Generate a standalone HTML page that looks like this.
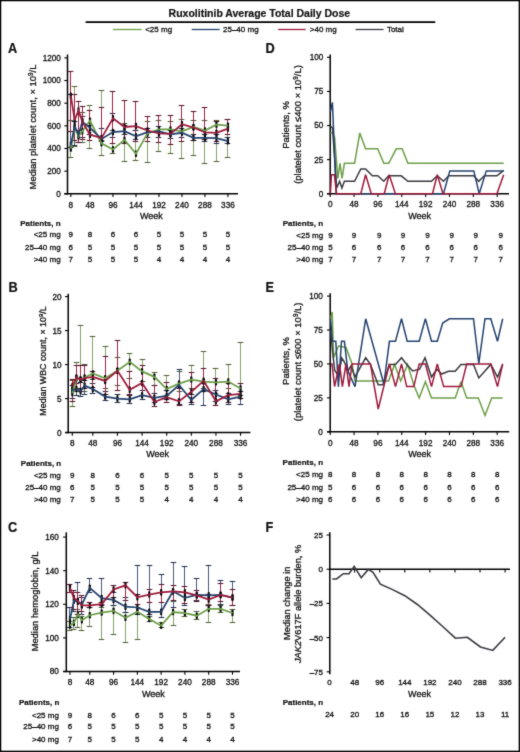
<!DOCTYPE html>
<html><head><meta charset="utf-8"><title>Ruxolitinib Average Total Daily Dose</title>
<style>
html,body{margin:0;padding:0;background:#fff;}
body{width:520px;height:752px;overflow:hidden;}
svg{display:block;font-family:"Liberation Sans",sans-serif;}
text{stroke:#111;stroke-width:0.3px;}
text[font-weight=bold]{stroke-width:0.2px;}
</style></head><body>
<svg width="520" height="752" viewBox="0 0 520 752" fill="#111" stroke-linecap="butt">
<defs><filter id="soft" filterUnits="userSpaceOnUse" x="0" y="0" width="520" height="752" color-interpolation-filters="sRGB"><feConvolveMatrix order="3" kernelMatrix="0.02 0.08 0.02 0.08 0.6 0.08 0.02 0.08 0.02" divisor="1" preserveAlpha="false" edgeMode="duplicate"/></filter></defs>
<g filter="url(#soft)">
<rect x="0" y="0" width="520" height="752" fill="#fff"/>
<rect x="0.6" y="0.6" width="518.7" height="750.7" fill="none" stroke="#000" stroke-width="1.3"/>
<text x="259.40" y="16.60" font-size="10.5" text-anchor="middle" font-weight="bold" >Ruxolitinib Average Total Daily Dose</text>
<line x1="85.60" y1="22.20" x2="435.30" y2="22.20" stroke="#000" stroke-width="1.7" />
<line x1="112.90" y1="29.50" x2="141.70" y2="29.50" stroke="#6c9f48" stroke-width="1.3" />
<text x="145.20" y="32.30" font-size="8" text-anchor="start" font-weight="normal" >&lt;25 mg</text>
<line x1="191.70" y1="29.50" x2="219.60" y2="29.50" stroke="#24426e" stroke-width="1.3" />
<text x="223.00" y="32.30" font-size="8" text-anchor="start" font-weight="normal" >25–40 mg</text>
<line x1="278.10" y1="29.50" x2="305.60" y2="29.50" stroke="#9e1a3c" stroke-width="1.3" />
<text x="309.80" y="32.30" font-size="8" text-anchor="start" font-weight="normal" >&gt;40 mg</text>
<line x1="355.60" y1="29.50" x2="383.50" y2="29.50" stroke="#3a3a42" stroke-width="1.3" />
<text x="386.90" y="32.30" font-size="8" text-anchor="start" font-weight="normal" >Total</text>
<text transform="translate(8.10,53.30) scale(0.9,1)" font-size="14.2" font-weight="bold">A</text>
<line x1="67.50" y1="54.50" x2="67.50" y2="194.50" stroke="#000" stroke-width="1.5" />
<line x1="64.30" y1="193.80" x2="67.50" y2="193.80" stroke="#000" stroke-width="1.1" />
<text x="60.90" y="196.70" font-size="8.2" text-anchor="end" font-weight="normal" >0</text>
<line x1="64.30" y1="171.15" x2="67.50" y2="171.15" stroke="#000" stroke-width="1.1" />
<text x="60.90" y="174.05" font-size="8.2" text-anchor="end" font-weight="normal" >200</text>
<line x1="64.30" y1="148.50" x2="67.50" y2="148.50" stroke="#000" stroke-width="1.1" />
<text x="60.90" y="151.40" font-size="8.2" text-anchor="end" font-weight="normal" >400</text>
<line x1="64.30" y1="125.85" x2="67.50" y2="125.85" stroke="#000" stroke-width="1.1" />
<text x="60.90" y="128.75" font-size="8.2" text-anchor="end" font-weight="normal" >600</text>
<line x1="64.30" y1="103.20" x2="67.50" y2="103.20" stroke="#000" stroke-width="1.1" />
<text x="60.90" y="106.10" font-size="8.2" text-anchor="end" font-weight="normal" >800</text>
<line x1="64.30" y1="80.55" x2="67.50" y2="80.55" stroke="#000" stroke-width="1.1" />
<text x="60.90" y="83.45" font-size="8.2" text-anchor="end" font-weight="normal" >1000</text>
<line x1="64.30" y1="57.90" x2="67.50" y2="57.90" stroke="#000" stroke-width="1.1" />
<text x="60.90" y="60.80" font-size="8.2" text-anchor="end" font-weight="normal" >1200</text>
<line x1="64.30" y1="193.80" x2="238.00" y2="193.80" stroke="#000" stroke-width="1.5" />
<line x1="70.83" y1="193.80" x2="70.83" y2="197.00" stroke="#000" stroke-width="1.1" />
<text x="70.83" y="207.60" font-size="8.2" text-anchor="middle" font-weight="normal" >8</text>
<line x1="89.99" y1="193.80" x2="89.99" y2="197.00" stroke="#000" stroke-width="1.1" />
<text x="89.99" y="207.60" font-size="8.2" text-anchor="middle" font-weight="normal" >48</text>
<line x1="112.98" y1="193.80" x2="112.98" y2="197.00" stroke="#000" stroke-width="1.1" />
<text x="112.98" y="207.60" font-size="8.2" text-anchor="middle" font-weight="normal" >96</text>
<line x1="135.98" y1="193.80" x2="135.98" y2="197.00" stroke="#000" stroke-width="1.1" />
<text x="135.98" y="207.60" font-size="8.2" text-anchor="middle" font-weight="normal" >144</text>
<line x1="158.97" y1="193.80" x2="158.97" y2="197.00" stroke="#000" stroke-width="1.1" />
<text x="158.97" y="207.60" font-size="8.2" text-anchor="middle" font-weight="normal" >192</text>
<line x1="181.96" y1="193.80" x2="181.96" y2="197.00" stroke="#000" stroke-width="1.1" />
<text x="181.96" y="207.60" font-size="8.2" text-anchor="middle" font-weight="normal" >240</text>
<line x1="204.95" y1="193.80" x2="204.95" y2="197.00" stroke="#000" stroke-width="1.1" />
<text x="204.95" y="207.60" font-size="8.2" text-anchor="middle" font-weight="normal" >288</text>
<line x1="227.94" y1="193.80" x2="227.94" y2="197.00" stroke="#000" stroke-width="1.1" />
<text x="227.94" y="207.60" font-size="8.2" text-anchor="middle" font-weight="normal" >336</text>
<text x="151.30" y="219.00" font-size="9" text-anchor="middle" font-weight="normal" >Week</text>
<text transform="translate(35.90,127.00) rotate(-90)" font-size="9.45" text-anchor="middle">Median platelet count, × 10<tspan dy="-3" font-size="6.3">9</tspan><tspan dy="3">/L</tspan></text>
<line x1="70.50" y1="120.50" x2="70.50" y2="157.50" stroke="#84a468" stroke-width="1.0" />
<line x1="67.70" y1="120.50" x2="73.30" y2="120.50" stroke="#55663f" stroke-width="1.1" />
<line x1="67.70" y1="157.50" x2="73.30" y2="157.50" stroke="#55663f" stroke-width="1.1" />
<line x1="74.50" y1="86.50" x2="74.50" y2="146.50" stroke="#84a468" stroke-width="1.0" />
<line x1="71.70" y1="86.50" x2="77.30" y2="86.50" stroke="#55663f" stroke-width="1.1" />
<line x1="71.70" y1="146.50" x2="77.30" y2="146.50" stroke="#55663f" stroke-width="1.1" />
<line x1="78.50" y1="114.50" x2="78.50" y2="142.50" stroke="#84a468" stroke-width="1.0" />
<line x1="75.70" y1="114.50" x2="81.30" y2="114.50" stroke="#55663f" stroke-width="1.1" />
<line x1="75.70" y1="142.50" x2="81.30" y2="142.50" stroke="#55663f" stroke-width="1.1" />
<line x1="82.50" y1="112.50" x2="82.50" y2="142.50" stroke="#84a468" stroke-width="1.0" />
<line x1="79.70" y1="112.50" x2="85.30" y2="112.50" stroke="#55663f" stroke-width="1.1" />
<line x1="79.70" y1="142.50" x2="85.30" y2="142.50" stroke="#55663f" stroke-width="1.1" />
<line x1="89.50" y1="105.50" x2="89.50" y2="148.50" stroke="#84a468" stroke-width="1.0" />
<line x1="86.70" y1="105.50" x2="92.30" y2="105.50" stroke="#55663f" stroke-width="1.1" />
<line x1="86.70" y1="148.50" x2="92.30" y2="148.50" stroke="#55663f" stroke-width="1.1" />
<line x1="101.50" y1="90.50" x2="101.50" y2="155.50" stroke="#84a468" stroke-width="1.0" />
<line x1="98.70" y1="90.50" x2="104.30" y2="90.50" stroke="#55663f" stroke-width="1.1" />
<line x1="98.70" y1="155.50" x2="104.30" y2="155.50" stroke="#55663f" stroke-width="1.1" />
<line x1="112.50" y1="130.50" x2="112.50" y2="153.50" stroke="#84a468" stroke-width="1.0" />
<line x1="109.70" y1="130.50" x2="115.30" y2="130.50" stroke="#55663f" stroke-width="1.1" />
<line x1="109.70" y1="153.50" x2="115.30" y2="153.50" stroke="#55663f" stroke-width="1.1" />
<line x1="124.50" y1="123.50" x2="124.50" y2="161.50" stroke="#84a468" stroke-width="1.0" />
<line x1="121.70" y1="123.50" x2="127.30" y2="123.50" stroke="#55663f" stroke-width="1.1" />
<line x1="121.70" y1="161.50" x2="127.30" y2="161.50" stroke="#55663f" stroke-width="1.1" />
<line x1="135.50" y1="130.50" x2="135.50" y2="160.50" stroke="#84a468" stroke-width="1.0" />
<line x1="132.70" y1="130.50" x2="138.30" y2="130.50" stroke="#55663f" stroke-width="1.1" />
<line x1="132.70" y1="160.50" x2="138.30" y2="160.50" stroke="#55663f" stroke-width="1.1" />
<line x1="147.50" y1="121.50" x2="147.50" y2="162.50" stroke="#84a468" stroke-width="1.0" />
<line x1="144.70" y1="121.50" x2="150.30" y2="121.50" stroke="#55663f" stroke-width="1.1" />
<line x1="144.70" y1="162.50" x2="150.30" y2="162.50" stroke="#55663f" stroke-width="1.1" />
<line x1="158.50" y1="120.50" x2="158.50" y2="151.50" stroke="#84a468" stroke-width="1.0" />
<line x1="155.70" y1="120.50" x2="161.30" y2="120.50" stroke="#55663f" stroke-width="1.1" />
<line x1="155.70" y1="151.50" x2="161.30" y2="151.50" stroke="#55663f" stroke-width="1.1" />
<line x1="170.50" y1="121.50" x2="170.50" y2="153.50" stroke="#84a468" stroke-width="1.0" />
<line x1="167.70" y1="121.50" x2="173.30" y2="121.50" stroke="#55663f" stroke-width="1.1" />
<line x1="167.70" y1="153.50" x2="173.30" y2="153.50" stroke="#55663f" stroke-width="1.1" />
<line x1="181.50" y1="119.50" x2="181.50" y2="158.50" stroke="#84a468" stroke-width="1.0" />
<line x1="178.70" y1="119.50" x2="184.30" y2="119.50" stroke="#55663f" stroke-width="1.1" />
<line x1="178.70" y1="158.50" x2="184.30" y2="158.50" stroke="#55663f" stroke-width="1.1" />
<line x1="193.50" y1="120.50" x2="193.50" y2="155.50" stroke="#84a468" stroke-width="1.0" />
<line x1="190.70" y1="120.50" x2="196.30" y2="120.50" stroke="#55663f" stroke-width="1.1" />
<line x1="190.70" y1="155.50" x2="196.30" y2="155.50" stroke="#55663f" stroke-width="1.1" />
<line x1="204.50" y1="120.50" x2="204.50" y2="163.50" stroke="#84a468" stroke-width="1.0" />
<line x1="201.70" y1="120.50" x2="207.30" y2="120.50" stroke="#55663f" stroke-width="1.1" />
<line x1="201.70" y1="163.50" x2="207.30" y2="163.50" stroke="#55663f" stroke-width="1.1" />
<line x1="216.50" y1="120.50" x2="216.50" y2="161.50" stroke="#84a468" stroke-width="1.0" />
<line x1="213.70" y1="120.50" x2="219.30" y2="120.50" stroke="#55663f" stroke-width="1.1" />
<line x1="213.70" y1="161.50" x2="219.30" y2="161.50" stroke="#55663f" stroke-width="1.1" />
<line x1="227.50" y1="119.50" x2="227.50" y2="157.50" stroke="#84a468" stroke-width="1.0" />
<line x1="224.70" y1="119.50" x2="230.30" y2="119.50" stroke="#55663f" stroke-width="1.1" />
<line x1="224.70" y1="157.50" x2="230.30" y2="157.50" stroke="#55663f" stroke-width="1.1" />
<line x1="70.50" y1="94.50" x2="70.50" y2="147.50" stroke="#4a5a80" stroke-width="1.0" />
<line x1="67.70" y1="94.50" x2="73.30" y2="94.50" stroke="#2a3552" stroke-width="1.1" />
<line x1="67.70" y1="147.50" x2="73.30" y2="147.50" stroke="#2a3552" stroke-width="1.1" />
<line x1="74.50" y1="121.50" x2="74.50" y2="145.50" stroke="#4a5a80" stroke-width="1.0" />
<line x1="71.70" y1="121.50" x2="77.30" y2="121.50" stroke="#2a3552" stroke-width="1.1" />
<line x1="71.70" y1="145.50" x2="77.30" y2="145.50" stroke="#2a3552" stroke-width="1.1" />
<line x1="78.50" y1="130.50" x2="78.50" y2="142.50" stroke="#4a5a80" stroke-width="1.0" />
<line x1="75.70" y1="130.50" x2="81.30" y2="130.50" stroke="#2a3552" stroke-width="1.1" />
<line x1="75.70" y1="142.50" x2="81.30" y2="142.50" stroke="#2a3552" stroke-width="1.1" />
<line x1="82.50" y1="116.50" x2="82.50" y2="137.50" stroke="#4a5a80" stroke-width="1.0" />
<line x1="79.70" y1="116.50" x2="85.30" y2="116.50" stroke="#2a3552" stroke-width="1.1" />
<line x1="79.70" y1="137.50" x2="85.30" y2="137.50" stroke="#2a3552" stroke-width="1.1" />
<line x1="89.50" y1="125.50" x2="89.50" y2="134.50" stroke="#4a5a80" stroke-width="1.0" />
<line x1="86.70" y1="125.50" x2="92.30" y2="125.50" stroke="#2a3552" stroke-width="1.1" />
<line x1="86.70" y1="134.50" x2="92.30" y2="134.50" stroke="#2a3552" stroke-width="1.1" />
<line x1="101.50" y1="128.50" x2="101.50" y2="141.50" stroke="#4a5a80" stroke-width="1.0" />
<line x1="98.70" y1="128.50" x2="104.30" y2="128.50" stroke="#2a3552" stroke-width="1.1" />
<line x1="98.70" y1="141.50" x2="104.30" y2="141.50" stroke="#2a3552" stroke-width="1.1" />
<line x1="112.50" y1="113.50" x2="112.50" y2="137.50" stroke="#4a5a80" stroke-width="1.0" />
<line x1="109.70" y1="113.50" x2="115.30" y2="113.50" stroke="#2a3552" stroke-width="1.1" />
<line x1="109.70" y1="137.50" x2="115.30" y2="137.50" stroke="#2a3552" stroke-width="1.1" />
<line x1="124.50" y1="125.50" x2="124.50" y2="134.50" stroke="#4a5a80" stroke-width="1.0" />
<line x1="121.70" y1="125.50" x2="127.30" y2="125.50" stroke="#2a3552" stroke-width="1.1" />
<line x1="121.70" y1="134.50" x2="127.30" y2="134.50" stroke="#2a3552" stroke-width="1.1" />
<line x1="135.50" y1="130.50" x2="135.50" y2="139.50" stroke="#4a5a80" stroke-width="1.0" />
<line x1="132.70" y1="130.50" x2="138.30" y2="130.50" stroke="#2a3552" stroke-width="1.1" />
<line x1="132.70" y1="139.50" x2="138.30" y2="139.50" stroke="#2a3552" stroke-width="1.1" />
<line x1="147.50" y1="128.50" x2="147.50" y2="137.50" stroke="#4a5a80" stroke-width="1.0" />
<line x1="144.70" y1="128.50" x2="150.30" y2="128.50" stroke="#2a3552" stroke-width="1.1" />
<line x1="144.70" y1="137.50" x2="150.30" y2="137.50" stroke="#2a3552" stroke-width="1.1" />
<line x1="158.50" y1="126.50" x2="158.50" y2="137.50" stroke="#4a5a80" stroke-width="1.0" />
<line x1="155.70" y1="126.50" x2="161.30" y2="126.50" stroke="#2a3552" stroke-width="1.1" />
<line x1="155.70" y1="137.50" x2="161.30" y2="137.50" stroke="#2a3552" stroke-width="1.1" />
<line x1="170.50" y1="130.50" x2="170.50" y2="138.50" stroke="#4a5a80" stroke-width="1.0" />
<line x1="167.70" y1="130.50" x2="173.30" y2="130.50" stroke="#2a3552" stroke-width="1.1" />
<line x1="167.70" y1="138.50" x2="173.30" y2="138.50" stroke="#2a3552" stroke-width="1.1" />
<line x1="181.50" y1="128.50" x2="181.50" y2="137.50" stroke="#4a5a80" stroke-width="1.0" />
<line x1="178.70" y1="128.50" x2="184.30" y2="128.50" stroke="#2a3552" stroke-width="1.1" />
<line x1="178.70" y1="137.50" x2="184.30" y2="137.50" stroke="#2a3552" stroke-width="1.1" />
<line x1="193.50" y1="134.50" x2="193.50" y2="140.50" stroke="#4a5a80" stroke-width="1.0" />
<line x1="190.70" y1="134.50" x2="196.30" y2="134.50" stroke="#2a3552" stroke-width="1.1" />
<line x1="190.70" y1="140.50" x2="196.30" y2="140.50" stroke="#2a3552" stroke-width="1.1" />
<line x1="204.50" y1="134.50" x2="204.50" y2="141.50" stroke="#4a5a80" stroke-width="1.0" />
<line x1="201.70" y1="134.50" x2="207.30" y2="134.50" stroke="#2a3552" stroke-width="1.1" />
<line x1="201.70" y1="141.50" x2="207.30" y2="141.50" stroke="#2a3552" stroke-width="1.1" />
<line x1="216.50" y1="134.50" x2="216.50" y2="143.50" stroke="#4a5a80" stroke-width="1.0" />
<line x1="213.70" y1="134.50" x2="219.30" y2="134.50" stroke="#2a3552" stroke-width="1.1" />
<line x1="213.70" y1="143.50" x2="219.30" y2="143.50" stroke="#2a3552" stroke-width="1.1" />
<line x1="227.50" y1="137.50" x2="227.50" y2="143.50" stroke="#4a5a80" stroke-width="1.0" />
<line x1="224.70" y1="137.50" x2="230.30" y2="137.50" stroke="#2a3552" stroke-width="1.1" />
<line x1="224.70" y1="143.50" x2="230.30" y2="143.50" stroke="#2a3552" stroke-width="1.1" />
<line x1="70.50" y1="71.50" x2="70.50" y2="131.50" stroke="#9e2446" stroke-width="1.0" />
<line x1="67.70" y1="71.50" x2="73.30" y2="71.50" stroke="#5e1c32" stroke-width="1.1" />
<line x1="67.70" y1="131.50" x2="73.30" y2="131.50" stroke="#5e1c32" stroke-width="1.1" />
<line x1="74.50" y1="94.50" x2="74.50" y2="140.50" stroke="#9e2446" stroke-width="1.0" />
<line x1="71.70" y1="94.50" x2="77.30" y2="94.50" stroke="#5e1c32" stroke-width="1.1" />
<line x1="71.70" y1="140.50" x2="77.30" y2="140.50" stroke="#5e1c32" stroke-width="1.1" />
<line x1="78.50" y1="101.50" x2="78.50" y2="142.50" stroke="#9e2446" stroke-width="1.0" />
<line x1="75.70" y1="101.50" x2="81.30" y2="101.50" stroke="#5e1c32" stroke-width="1.1" />
<line x1="75.70" y1="142.50" x2="81.30" y2="142.50" stroke="#5e1c32" stroke-width="1.1" />
<line x1="82.50" y1="106.50" x2="82.50" y2="139.50" stroke="#9e2446" stroke-width="1.0" />
<line x1="79.70" y1="106.50" x2="85.30" y2="106.50" stroke="#5e1c32" stroke-width="1.1" />
<line x1="79.70" y1="139.50" x2="85.30" y2="139.50" stroke="#5e1c32" stroke-width="1.1" />
<line x1="89.50" y1="110.50" x2="89.50" y2="140.50" stroke="#9e2446" stroke-width="1.0" />
<line x1="86.70" y1="110.50" x2="92.30" y2="110.50" stroke="#5e1c32" stroke-width="1.1" />
<line x1="86.70" y1="140.50" x2="92.30" y2="140.50" stroke="#5e1c32" stroke-width="1.1" />
<line x1="101.50" y1="107.50" x2="101.50" y2="140.50" stroke="#9e2446" stroke-width="1.0" />
<line x1="98.70" y1="107.50" x2="104.30" y2="107.50" stroke="#5e1c32" stroke-width="1.1" />
<line x1="98.70" y1="140.50" x2="104.30" y2="140.50" stroke="#5e1c32" stroke-width="1.1" />
<line x1="112.50" y1="91.50" x2="112.50" y2="143.50" stroke="#9e2446" stroke-width="1.0" />
<line x1="109.70" y1="91.50" x2="115.30" y2="91.50" stroke="#5e1c32" stroke-width="1.1" />
<line x1="109.70" y1="143.50" x2="115.30" y2="143.50" stroke="#5e1c32" stroke-width="1.1" />
<line x1="124.50" y1="100.50" x2="124.50" y2="143.50" stroke="#9e2446" stroke-width="1.0" />
<line x1="121.70" y1="100.50" x2="127.30" y2="100.50" stroke="#5e1c32" stroke-width="1.1" />
<line x1="121.70" y1="143.50" x2="127.30" y2="143.50" stroke="#5e1c32" stroke-width="1.1" />
<line x1="135.50" y1="101.50" x2="135.50" y2="141.50" stroke="#9e2446" stroke-width="1.0" />
<line x1="132.70" y1="101.50" x2="138.30" y2="101.50" stroke="#5e1c32" stroke-width="1.1" />
<line x1="132.70" y1="141.50" x2="138.30" y2="141.50" stroke="#5e1c32" stroke-width="1.1" />
<line x1="147.50" y1="116.50" x2="147.50" y2="141.50" stroke="#9e2446" stroke-width="1.0" />
<line x1="144.70" y1="116.50" x2="150.30" y2="116.50" stroke="#5e1c32" stroke-width="1.1" />
<line x1="144.70" y1="141.50" x2="150.30" y2="141.50" stroke="#5e1c32" stroke-width="1.1" />
<line x1="158.50" y1="115.50" x2="158.50" y2="142.50" stroke="#9e2446" stroke-width="1.0" />
<line x1="155.70" y1="115.50" x2="161.30" y2="115.50" stroke="#5e1c32" stroke-width="1.1" />
<line x1="155.70" y1="142.50" x2="161.30" y2="142.50" stroke="#5e1c32" stroke-width="1.1" />
<line x1="170.50" y1="115.50" x2="170.50" y2="144.50" stroke="#9e2446" stroke-width="1.0" />
<line x1="167.70" y1="115.50" x2="173.30" y2="115.50" stroke="#5e1c32" stroke-width="1.1" />
<line x1="167.70" y1="144.50" x2="173.30" y2="144.50" stroke="#5e1c32" stroke-width="1.1" />
<line x1="181.50" y1="105.50" x2="181.50" y2="141.50" stroke="#9e2446" stroke-width="1.0" />
<line x1="178.70" y1="105.50" x2="184.30" y2="105.50" stroke="#5e1c32" stroke-width="1.1" />
<line x1="178.70" y1="141.50" x2="184.30" y2="141.50" stroke="#5e1c32" stroke-width="1.1" />
<line x1="193.50" y1="111.50" x2="193.50" y2="140.50" stroke="#9e2446" stroke-width="1.0" />
<line x1="190.70" y1="111.50" x2="196.30" y2="111.50" stroke="#5e1c32" stroke-width="1.1" />
<line x1="190.70" y1="140.50" x2="196.30" y2="140.50" stroke="#5e1c32" stroke-width="1.1" />
<line x1="204.50" y1="107.50" x2="204.50" y2="139.50" stroke="#9e2446" stroke-width="1.0" />
<line x1="201.70" y1="107.50" x2="207.30" y2="107.50" stroke="#5e1c32" stroke-width="1.1" />
<line x1="201.70" y1="139.50" x2="207.30" y2="139.50" stroke="#5e1c32" stroke-width="1.1" />
<line x1="216.50" y1="121.50" x2="216.50" y2="141.50" stroke="#9e2446" stroke-width="1.0" />
<line x1="213.70" y1="121.50" x2="219.30" y2="121.50" stroke="#5e1c32" stroke-width="1.1" />
<line x1="213.70" y1="141.50" x2="219.30" y2="141.50" stroke="#5e1c32" stroke-width="1.1" />
<line x1="227.50" y1="119.50" x2="227.50" y2="134.50" stroke="#9e2446" stroke-width="1.0" />
<line x1="224.70" y1="119.50" x2="230.30" y2="119.50" stroke="#5e1c32" stroke-width="1.1" />
<line x1="224.70" y1="134.50" x2="230.30" y2="134.50" stroke="#5e1c32" stroke-width="1.1" />
<rect x="69.73" y="145.20" width="2.2" height="6.6" rx="0.8" fill="#0a0a0a"/>
<rect x="73.56" y="124.59" width="2.2" height="6.6" rx="0.8" fill="#0a0a0a"/>
<rect x="77.40" y="133.08" width="2.2" height="6.6" rx="0.8" fill="#0a0a0a"/>
<rect x="81.23" y="127.87" width="2.2" height="6.6" rx="0.8" fill="#0a0a0a"/>
<rect x="88.89" y="117.45" width="2.2" height="6.6" rx="0.8" fill="#0a0a0a"/>
<rect x="100.39" y="139.99" width="2.2" height="6.6" rx="0.8" fill="#0a0a0a"/>
<rect x="111.88" y="146.11" width="2.2" height="6.6" rx="0.8" fill="#0a0a0a"/>
<rect x="123.38" y="136.59" width="2.2" height="6.6" rx="0.8" fill="#0a0a0a"/>
<rect x="134.88" y="150.41" width="2.2" height="6.6" rx="0.8" fill="#0a0a0a"/>
<rect x="146.37" y="130.14" width="2.2" height="6.6" rx="0.8" fill="#0a0a0a"/>
<rect x="157.87" y="126.17" width="2.2" height="6.6" rx="0.8" fill="#0a0a0a"/>
<rect x="169.36" y="126.17" width="2.2" height="6.6" rx="0.8" fill="#0a0a0a"/>
<rect x="180.86" y="128.10" width="2.2" height="6.6" rx="0.8" fill="#0a0a0a"/>
<rect x="192.36" y="123.68" width="2.2" height="6.6" rx="0.8" fill="#0a0a0a"/>
<rect x="203.85" y="127.19" width="2.2" height="6.6" rx="0.8" fill="#0a0a0a"/>
<rect x="215.35" y="121.42" width="2.2" height="6.6" rx="0.8" fill="#0a0a0a"/>
<rect x="226.84" y="122.44" width="2.2" height="6.6" rx="0.8" fill="#0a0a0a"/>
<rect x="69.73" y="141.80" width="2.2" height="6.6" rx="0.8" fill="#0a0a0a"/>
<rect x="73.56" y="122.78" width="2.2" height="6.6" rx="0.8" fill="#0a0a0a"/>
<rect x="77.40" y="131.38" width="2.2" height="6.6" rx="0.8" fill="#0a0a0a"/>
<rect x="81.23" y="118.36" width="2.2" height="6.6" rx="0.8" fill="#0a0a0a"/>
<rect x="88.89" y="124.59" width="2.2" height="6.6" rx="0.8" fill="#0a0a0a"/>
<rect x="100.39" y="135.69" width="2.2" height="6.6" rx="0.8" fill="#0a0a0a"/>
<rect x="111.88" y="128.78" width="2.2" height="6.6" rx="0.8" fill="#0a0a0a"/>
<rect x="123.38" y="127.87" width="2.2" height="6.6" rx="0.8" fill="#0a0a0a"/>
<rect x="134.88" y="133.08" width="2.2" height="6.6" rx="0.8" fill="#0a0a0a"/>
<rect x="146.37" y="128.78" width="2.2" height="6.6" rx="0.8" fill="#0a0a0a"/>
<rect x="157.87" y="128.10" width="2.2" height="6.6" rx="0.8" fill="#0a0a0a"/>
<rect x="169.36" y="131.04" width="2.2" height="6.6" rx="0.8" fill="#0a0a0a"/>
<rect x="180.86" y="129.46" width="2.2" height="6.6" rx="0.8" fill="#0a0a0a"/>
<rect x="192.36" y="134.55" width="2.2" height="6.6" rx="0.8" fill="#0a0a0a"/>
<rect x="203.85" y="134.55" width="2.2" height="6.6" rx="0.8" fill="#0a0a0a"/>
<rect x="215.35" y="134.89" width="2.2" height="6.6" rx="0.8" fill="#0a0a0a"/>
<rect x="226.84" y="137.84" width="2.2" height="6.6" rx="0.8" fill="#0a0a0a"/>
<rect x="69.73" y="92.54" width="2.2" height="6.6" rx="0.8" fill="#0a0a0a"/>
<rect x="73.56" y="116.66" width="2.2" height="6.6" rx="0.8" fill="#0a0a0a"/>
<rect x="77.40" y="107.26" width="2.2" height="6.6" rx="0.8" fill="#0a0a0a"/>
<rect x="81.23" y="118.36" width="2.2" height="6.6" rx="0.8" fill="#0a0a0a"/>
<rect x="88.89" y="131.38" width="2.2" height="6.6" rx="0.8" fill="#0a0a0a"/>
<rect x="100.39" y="134.78" width="2.2" height="6.6" rx="0.8" fill="#0a0a0a"/>
<rect x="111.88" y="114.96" width="2.2" height="6.6" rx="0.8" fill="#0a0a0a"/>
<rect x="123.38" y="123.68" width="2.2" height="6.6" rx="0.8" fill="#0a0a0a"/>
<rect x="134.88" y="122.78" width="2.2" height="6.6" rx="0.8" fill="#0a0a0a"/>
<rect x="146.37" y="127.19" width="2.2" height="6.6" rx="0.8" fill="#0a0a0a"/>
<rect x="157.87" y="130.14" width="2.2" height="6.6" rx="0.8" fill="#0a0a0a"/>
<rect x="169.36" y="130.59" width="2.2" height="6.6" rx="0.8" fill="#0a0a0a"/>
<rect x="180.86" y="120.96" width="2.2" height="6.6" rx="0.8" fill="#0a0a0a"/>
<rect x="192.36" y="124.25" width="2.2" height="6.6" rx="0.8" fill="#0a0a0a"/>
<rect x="203.85" y="129.12" width="2.2" height="6.6" rx="0.8" fill="#0a0a0a"/>
<rect x="215.35" y="129.46" width="2.2" height="6.6" rx="0.8" fill="#0a0a0a"/>
<rect x="226.84" y="125.27" width="2.2" height="6.6" rx="0.8" fill="#0a0a0a"/>
<polyline points="70.83,148.50 74.66,127.89 78.50,136.38 82.33,131.17 89.99,120.75 101.49,143.29 112.98,149.41 124.48,139.89 135.98,153.71 147.47,133.44 158.97,129.47 170.46,129.47 181.96,131.40 193.46,126.98 204.95,130.49 216.45,124.72 227.94,125.74" fill="none" stroke="#6c9f48" stroke-width="1.75" stroke-linejoin="miter" stroke-miterlimit="3" />
<polyline points="70.83,145.10 74.66,126.08 78.50,134.68 82.33,121.66 89.99,127.89 101.49,138.99 112.98,132.08 124.48,131.17 135.98,136.38 147.47,132.08 158.97,131.40 170.46,134.34 181.96,132.76 193.46,137.85 204.95,137.85 216.45,138.19 227.94,141.14" fill="none" stroke="#24426e" stroke-width="1.75" stroke-linejoin="miter" stroke-miterlimit="3" />
<polyline points="70.83,95.84 74.66,119.96 78.50,110.56 82.33,121.66 89.99,134.68 101.49,138.08 112.98,118.26 124.48,126.98 135.98,126.08 147.47,130.49 158.97,133.44 170.46,133.89 181.96,124.26 193.46,127.55 204.95,132.42 216.45,132.76 227.94,128.57" fill="none" stroke="#9e1a3c" stroke-width="1.75" stroke-linejoin="miter" stroke-miterlimit="3" />
<text x="20.20" y="225.70" font-size="8" text-anchor="start" font-weight="bold" >Patients, n</text>
<text x="60.60" y="237.40" font-size="8" text-anchor="end" font-weight="normal" >&lt;25 mg</text>
<text x="70.83" y="237.40" font-size="8" text-anchor="middle" font-weight="normal" >9</text>
<text x="89.99" y="237.40" font-size="8" text-anchor="middle" font-weight="normal" >8</text>
<text x="112.98" y="237.40" font-size="8" text-anchor="middle" font-weight="normal" >6</text>
<text x="135.98" y="237.40" font-size="8" text-anchor="middle" font-weight="normal" >6</text>
<text x="158.97" y="237.40" font-size="8" text-anchor="middle" font-weight="normal" >5</text>
<text x="181.96" y="237.40" font-size="8" text-anchor="middle" font-weight="normal" >5</text>
<text x="204.95" y="237.40" font-size="8" text-anchor="middle" font-weight="normal" >5</text>
<text x="227.94" y="237.40" font-size="8" text-anchor="middle" font-weight="normal" >5</text>
<text x="60.60" y="249.60" font-size="8" text-anchor="end" font-weight="normal" >25–40 mg</text>
<text x="70.83" y="249.60" font-size="8" text-anchor="middle" font-weight="normal" >6</text>
<text x="89.99" y="249.60" font-size="8" text-anchor="middle" font-weight="normal" >5</text>
<text x="112.98" y="249.60" font-size="8" text-anchor="middle" font-weight="normal" >5</text>
<text x="135.98" y="249.60" font-size="8" text-anchor="middle" font-weight="normal" >5</text>
<text x="158.97" y="249.60" font-size="8" text-anchor="middle" font-weight="normal" >5</text>
<text x="181.96" y="249.60" font-size="8" text-anchor="middle" font-weight="normal" >5</text>
<text x="204.95" y="249.60" font-size="8" text-anchor="middle" font-weight="normal" >5</text>
<text x="227.94" y="249.60" font-size="8" text-anchor="middle" font-weight="normal" >5</text>
<text x="60.60" y="261.70" font-size="8" text-anchor="end" font-weight="normal" >&gt;40 mg</text>
<text x="70.83" y="261.70" font-size="8" text-anchor="middle" font-weight="normal" >7</text>
<text x="89.99" y="261.70" font-size="8" text-anchor="middle" font-weight="normal" >5</text>
<text x="112.98" y="261.70" font-size="8" text-anchor="middle" font-weight="normal" >5</text>
<text x="135.98" y="261.70" font-size="8" text-anchor="middle" font-weight="normal" >5</text>
<text x="158.97" y="261.70" font-size="8" text-anchor="middle" font-weight="normal" >4</text>
<text x="181.96" y="261.70" font-size="8" text-anchor="middle" font-weight="normal" >4</text>
<text x="204.95" y="261.70" font-size="8" text-anchor="middle" font-weight="normal" >4</text>
<text x="227.94" y="261.70" font-size="8" text-anchor="middle" font-weight="normal" >4</text>
<text transform="translate(8.50,291.90) scale(0.9,1)" font-size="14.2" font-weight="bold">B</text>
<line x1="68.20" y1="293.70" x2="68.20" y2="433.30" stroke="#000" stroke-width="1.5" />
<line x1="65.00" y1="432.60" x2="68.20" y2="432.60" stroke="#000" stroke-width="1.1" />
<text x="61.60" y="435.50" font-size="8.2" text-anchor="end" font-weight="normal" >0</text>
<line x1="65.00" y1="398.60" x2="68.20" y2="398.60" stroke="#000" stroke-width="1.1" />
<text x="61.60" y="401.50" font-size="8.2" text-anchor="end" font-weight="normal" >5</text>
<line x1="65.00" y1="364.60" x2="68.20" y2="364.60" stroke="#000" stroke-width="1.1" />
<text x="61.60" y="367.50" font-size="8.2" text-anchor="end" font-weight="normal" >10</text>
<line x1="65.00" y1="330.60" x2="68.20" y2="330.60" stroke="#000" stroke-width="1.1" />
<text x="61.60" y="333.50" font-size="8.2" text-anchor="end" font-weight="normal" >15</text>
<line x1="65.00" y1="296.60" x2="68.20" y2="296.60" stroke="#000" stroke-width="1.1" />
<text x="61.60" y="299.50" font-size="8.2" text-anchor="end" font-weight="normal" >20</text>
<line x1="65.00" y1="432.60" x2="250.40" y2="432.60" stroke="#000" stroke-width="1.5" />
<line x1="72.30" y1="432.60" x2="72.30" y2="435.80" stroke="#000" stroke-width="1.1" />
<text x="72.30" y="446.20" font-size="8.2" text-anchor="middle" font-weight="normal" >8</text>
<line x1="92.82" y1="432.60" x2="92.82" y2="435.80" stroke="#000" stroke-width="1.1" />
<text x="92.82" y="446.20" font-size="8.2" text-anchor="middle" font-weight="normal" >48</text>
<line x1="117.45" y1="432.60" x2="117.45" y2="435.80" stroke="#000" stroke-width="1.1" />
<text x="117.45" y="446.20" font-size="8.2" text-anchor="middle" font-weight="normal" >96</text>
<line x1="142.07" y1="432.60" x2="142.07" y2="435.80" stroke="#000" stroke-width="1.1" />
<text x="142.07" y="446.20" font-size="8.2" text-anchor="middle" font-weight="normal" >144</text>
<line x1="166.70" y1="432.60" x2="166.70" y2="435.80" stroke="#000" stroke-width="1.1" />
<text x="166.70" y="446.20" font-size="8.2" text-anchor="middle" font-weight="normal" >192</text>
<line x1="191.32" y1="432.60" x2="191.32" y2="435.80" stroke="#000" stroke-width="1.1" />
<text x="191.32" y="446.20" font-size="8.2" text-anchor="middle" font-weight="normal" >240</text>
<line x1="215.94" y1="432.60" x2="215.94" y2="435.80" stroke="#000" stroke-width="1.1" />
<text x="215.94" y="446.20" font-size="8.2" text-anchor="middle" font-weight="normal" >288</text>
<line x1="240.57" y1="432.60" x2="240.57" y2="435.80" stroke="#000" stroke-width="1.1" />
<text x="240.57" y="446.20" font-size="8.2" text-anchor="middle" font-weight="normal" >336</text>
<text x="157.60" y="457.40" font-size="9" text-anchor="middle" font-weight="normal" >Week</text>
<text transform="translate(45.90,361.00) rotate(-90)" font-size="8.85" text-anchor="middle">Median WBC count, × 10<tspan dy="-3" font-size="6">9</tspan><tspan dy="3">/L</tspan></text>
<line x1="72.50" y1="380.50" x2="72.50" y2="406.50" stroke="#84a468" stroke-width="1.0" />
<line x1="69.70" y1="380.50" x2="75.30" y2="380.50" stroke="#55663f" stroke-width="1.1" />
<line x1="69.70" y1="406.50" x2="75.30" y2="406.50" stroke="#55663f" stroke-width="1.1" />
<line x1="76.50" y1="362.50" x2="76.50" y2="391.50" stroke="#84a468" stroke-width="1.0" />
<line x1="73.70" y1="362.50" x2="79.30" y2="362.50" stroke="#55663f" stroke-width="1.1" />
<line x1="73.70" y1="391.50" x2="79.30" y2="391.50" stroke="#55663f" stroke-width="1.1" />
<line x1="80.50" y1="325.50" x2="80.50" y2="388.50" stroke="#84a468" stroke-width="1.0" />
<line x1="77.70" y1="325.50" x2="83.30" y2="325.50" stroke="#55663f" stroke-width="1.1" />
<line x1="77.70" y1="388.50" x2="83.30" y2="388.50" stroke="#55663f" stroke-width="1.1" />
<line x1="84.50" y1="364.50" x2="84.50" y2="391.50" stroke="#84a468" stroke-width="1.0" />
<line x1="81.70" y1="364.50" x2="87.30" y2="364.50" stroke="#55663f" stroke-width="1.1" />
<line x1="81.70" y1="391.50" x2="87.30" y2="391.50" stroke="#55663f" stroke-width="1.1" />
<line x1="92.50" y1="336.50" x2="92.50" y2="379.50" stroke="#84a468" stroke-width="1.0" />
<line x1="89.70" y1="336.50" x2="95.30" y2="336.50" stroke="#55663f" stroke-width="1.1" />
<line x1="89.70" y1="379.50" x2="95.30" y2="379.50" stroke="#55663f" stroke-width="1.1" />
<line x1="105.50" y1="346.50" x2="105.50" y2="388.50" stroke="#84a468" stroke-width="1.0" />
<line x1="102.70" y1="346.50" x2="108.30" y2="346.50" stroke="#55663f" stroke-width="1.1" />
<line x1="102.70" y1="388.50" x2="108.30" y2="388.50" stroke="#55663f" stroke-width="1.1" />
<line x1="117.50" y1="357.50" x2="117.50" y2="385.50" stroke="#84a468" stroke-width="1.0" />
<line x1="114.70" y1="357.50" x2="120.30" y2="357.50" stroke="#55663f" stroke-width="1.1" />
<line x1="114.70" y1="385.50" x2="120.30" y2="385.50" stroke="#55663f" stroke-width="1.1" />
<line x1="129.50" y1="353.50" x2="129.50" y2="378.50" stroke="#84a468" stroke-width="1.0" />
<line x1="126.70" y1="353.50" x2="132.30" y2="353.50" stroke="#55663f" stroke-width="1.1" />
<line x1="126.70" y1="378.50" x2="132.30" y2="378.50" stroke="#55663f" stroke-width="1.1" />
<line x1="142.50" y1="359.50" x2="142.50" y2="381.50" stroke="#84a468" stroke-width="1.0" />
<line x1="139.70" y1="359.50" x2="145.30" y2="359.50" stroke="#55663f" stroke-width="1.1" />
<line x1="139.70" y1="381.50" x2="145.30" y2="381.50" stroke="#55663f" stroke-width="1.1" />
<line x1="154.50" y1="372.50" x2="154.50" y2="385.50" stroke="#84a468" stroke-width="1.0" />
<line x1="151.70" y1="372.50" x2="157.30" y2="372.50" stroke="#55663f" stroke-width="1.1" />
<line x1="151.70" y1="385.50" x2="157.30" y2="385.50" stroke="#55663f" stroke-width="1.1" />
<line x1="166.50" y1="375.50" x2="166.50" y2="395.50" stroke="#84a468" stroke-width="1.0" />
<line x1="163.70" y1="375.50" x2="169.30" y2="375.50" stroke="#55663f" stroke-width="1.1" />
<line x1="163.70" y1="395.50" x2="169.30" y2="395.50" stroke="#55663f" stroke-width="1.1" />
<line x1="179.50" y1="371.50" x2="179.50" y2="391.50" stroke="#84a468" stroke-width="1.0" />
<line x1="176.70" y1="371.50" x2="182.30" y2="371.50" stroke="#55663f" stroke-width="1.1" />
<line x1="176.70" y1="391.50" x2="182.30" y2="391.50" stroke="#55663f" stroke-width="1.1" />
<line x1="191.50" y1="365.50" x2="191.50" y2="388.50" stroke="#84a468" stroke-width="1.0" />
<line x1="188.70" y1="365.50" x2="194.30" y2="365.50" stroke="#55663f" stroke-width="1.1" />
<line x1="188.70" y1="388.50" x2="194.30" y2="388.50" stroke="#55663f" stroke-width="1.1" />
<line x1="203.50" y1="351.50" x2="203.50" y2="388.50" stroke="#84a468" stroke-width="1.0" />
<line x1="200.70" y1="351.50" x2="206.30" y2="351.50" stroke="#55663f" stroke-width="1.1" />
<line x1="200.70" y1="388.50" x2="206.30" y2="388.50" stroke="#55663f" stroke-width="1.1" />
<line x1="215.50" y1="368.50" x2="215.50" y2="393.50" stroke="#84a468" stroke-width="1.0" />
<line x1="212.70" y1="368.50" x2="218.30" y2="368.50" stroke="#55663f" stroke-width="1.1" />
<line x1="212.70" y1="393.50" x2="218.30" y2="393.50" stroke="#55663f" stroke-width="1.1" />
<line x1="228.50" y1="364.50" x2="228.50" y2="388.50" stroke="#84a468" stroke-width="1.0" />
<line x1="225.70" y1="364.50" x2="231.30" y2="364.50" stroke="#55663f" stroke-width="1.1" />
<line x1="225.70" y1="388.50" x2="231.30" y2="388.50" stroke="#55663f" stroke-width="1.1" />
<line x1="240.50" y1="342.50" x2="240.50" y2="395.50" stroke="#84a468" stroke-width="1.0" />
<line x1="237.70" y1="342.50" x2="243.30" y2="342.50" stroke="#55663f" stroke-width="1.1" />
<line x1="237.70" y1="395.50" x2="243.30" y2="395.50" stroke="#55663f" stroke-width="1.1" />
<line x1="72.50" y1="385.50" x2="72.50" y2="398.50" stroke="#4a5a80" stroke-width="1.0" />
<line x1="69.70" y1="385.50" x2="75.30" y2="385.50" stroke="#2a3552" stroke-width="1.1" />
<line x1="69.70" y1="398.50" x2="75.30" y2="398.50" stroke="#2a3552" stroke-width="1.1" />
<line x1="76.50" y1="383.50" x2="76.50" y2="395.50" stroke="#4a5a80" stroke-width="1.0" />
<line x1="73.70" y1="383.50" x2="79.30" y2="383.50" stroke="#2a3552" stroke-width="1.1" />
<line x1="73.70" y1="395.50" x2="79.30" y2="395.50" stroke="#2a3552" stroke-width="1.1" />
<line x1="80.50" y1="382.50" x2="80.50" y2="396.50" stroke="#4a5a80" stroke-width="1.0" />
<line x1="77.70" y1="382.50" x2="83.30" y2="382.50" stroke="#2a3552" stroke-width="1.1" />
<line x1="77.70" y1="396.50" x2="83.30" y2="396.50" stroke="#2a3552" stroke-width="1.1" />
<line x1="84.50" y1="380.50" x2="84.50" y2="394.50" stroke="#4a5a80" stroke-width="1.0" />
<line x1="81.70" y1="380.50" x2="87.30" y2="380.50" stroke="#2a3552" stroke-width="1.1" />
<line x1="81.70" y1="394.50" x2="87.30" y2="394.50" stroke="#2a3552" stroke-width="1.1" />
<line x1="92.50" y1="383.50" x2="92.50" y2="393.50" stroke="#4a5a80" stroke-width="1.0" />
<line x1="89.70" y1="383.50" x2="95.30" y2="383.50" stroke="#2a3552" stroke-width="1.1" />
<line x1="89.70" y1="393.50" x2="95.30" y2="393.50" stroke="#2a3552" stroke-width="1.1" />
<line x1="105.50" y1="391.50" x2="105.50" y2="400.50" stroke="#4a5a80" stroke-width="1.0" />
<line x1="102.70" y1="391.50" x2="108.30" y2="391.50" stroke="#2a3552" stroke-width="1.1" />
<line x1="102.70" y1="400.50" x2="108.30" y2="400.50" stroke="#2a3552" stroke-width="1.1" />
<line x1="117.50" y1="394.50" x2="117.50" y2="402.50" stroke="#4a5a80" stroke-width="1.0" />
<line x1="114.70" y1="394.50" x2="120.30" y2="394.50" stroke="#2a3552" stroke-width="1.1" />
<line x1="114.70" y1="402.50" x2="120.30" y2="402.50" stroke="#2a3552" stroke-width="1.1" />
<line x1="129.50" y1="394.50" x2="129.50" y2="403.50" stroke="#4a5a80" stroke-width="1.0" />
<line x1="126.70" y1="394.50" x2="132.30" y2="394.50" stroke="#2a3552" stroke-width="1.1" />
<line x1="126.70" y1="403.50" x2="132.30" y2="403.50" stroke="#2a3552" stroke-width="1.1" />
<line x1="142.50" y1="390.50" x2="142.50" y2="399.50" stroke="#4a5a80" stroke-width="1.0" />
<line x1="139.70" y1="390.50" x2="145.30" y2="390.50" stroke="#2a3552" stroke-width="1.1" />
<line x1="139.70" y1="399.50" x2="145.30" y2="399.50" stroke="#2a3552" stroke-width="1.1" />
<line x1="154.50" y1="393.50" x2="154.50" y2="402.50" stroke="#4a5a80" stroke-width="1.0" />
<line x1="151.70" y1="393.50" x2="157.30" y2="393.50" stroke="#2a3552" stroke-width="1.1" />
<line x1="151.70" y1="402.50" x2="157.30" y2="402.50" stroke="#2a3552" stroke-width="1.1" />
<line x1="166.50" y1="390.50" x2="166.50" y2="399.50" stroke="#4a5a80" stroke-width="1.0" />
<line x1="163.70" y1="390.50" x2="169.30" y2="390.50" stroke="#2a3552" stroke-width="1.1" />
<line x1="163.70" y1="399.50" x2="169.30" y2="399.50" stroke="#2a3552" stroke-width="1.1" />
<line x1="179.50" y1="369.50" x2="179.50" y2="404.50" stroke="#4a5a80" stroke-width="1.0" />
<line x1="176.70" y1="369.50" x2="182.30" y2="369.50" stroke="#2a3552" stroke-width="1.1" />
<line x1="176.70" y1="404.50" x2="182.30" y2="404.50" stroke="#2a3552" stroke-width="1.1" />
<line x1="191.50" y1="394.50" x2="191.50" y2="404.50" stroke="#4a5a80" stroke-width="1.0" />
<line x1="188.70" y1="394.50" x2="194.30" y2="394.50" stroke="#2a3552" stroke-width="1.1" />
<line x1="188.70" y1="404.50" x2="194.30" y2="404.50" stroke="#2a3552" stroke-width="1.1" />
<line x1="203.50" y1="383.50" x2="203.50" y2="405.50" stroke="#4a5a80" stroke-width="1.0" />
<line x1="200.70" y1="383.50" x2="206.30" y2="383.50" stroke="#2a3552" stroke-width="1.1" />
<line x1="200.70" y1="405.50" x2="206.30" y2="405.50" stroke="#2a3552" stroke-width="1.1" />
<line x1="215.50" y1="390.50" x2="215.50" y2="401.50" stroke="#4a5a80" stroke-width="1.0" />
<line x1="212.70" y1="390.50" x2="218.30" y2="390.50" stroke="#2a3552" stroke-width="1.1" />
<line x1="212.70" y1="401.50" x2="218.30" y2="401.50" stroke="#2a3552" stroke-width="1.1" />
<line x1="228.50" y1="393.50" x2="228.50" y2="404.50" stroke="#4a5a80" stroke-width="1.0" />
<line x1="225.70" y1="393.50" x2="231.30" y2="393.50" stroke="#2a3552" stroke-width="1.1" />
<line x1="225.70" y1="404.50" x2="231.30" y2="404.50" stroke="#2a3552" stroke-width="1.1" />
<line x1="240.50" y1="391.50" x2="240.50" y2="404.50" stroke="#4a5a80" stroke-width="1.0" />
<line x1="237.70" y1="391.50" x2="243.30" y2="391.50" stroke="#2a3552" stroke-width="1.1" />
<line x1="237.70" y1="404.50" x2="243.30" y2="404.50" stroke="#2a3552" stroke-width="1.1" />
<line x1="72.50" y1="379.50" x2="72.50" y2="401.50" stroke="#9e2446" stroke-width="1.0" />
<line x1="69.70" y1="379.50" x2="75.30" y2="379.50" stroke="#5e1c32" stroke-width="1.1" />
<line x1="69.70" y1="401.50" x2="75.30" y2="401.50" stroke="#5e1c32" stroke-width="1.1" />
<line x1="76.50" y1="365.50" x2="76.50" y2="388.50" stroke="#9e2446" stroke-width="1.0" />
<line x1="73.70" y1="365.50" x2="79.30" y2="365.50" stroke="#5e1c32" stroke-width="1.1" />
<line x1="73.70" y1="388.50" x2="79.30" y2="388.50" stroke="#5e1c32" stroke-width="1.1" />
<line x1="80.50" y1="365.50" x2="80.50" y2="391.50" stroke="#9e2446" stroke-width="1.0" />
<line x1="77.70" y1="365.50" x2="83.30" y2="365.50" stroke="#5e1c32" stroke-width="1.1" />
<line x1="77.70" y1="391.50" x2="83.30" y2="391.50" stroke="#5e1c32" stroke-width="1.1" />
<line x1="84.50" y1="365.50" x2="84.50" y2="388.50" stroke="#9e2446" stroke-width="1.0" />
<line x1="81.70" y1="365.50" x2="87.30" y2="365.50" stroke="#5e1c32" stroke-width="1.1" />
<line x1="81.70" y1="388.50" x2="87.30" y2="388.50" stroke="#5e1c32" stroke-width="1.1" />
<line x1="92.50" y1="371.50" x2="92.50" y2="387.50" stroke="#9e2446" stroke-width="1.0" />
<line x1="89.70" y1="371.50" x2="95.30" y2="371.50" stroke="#5e1c32" stroke-width="1.1" />
<line x1="89.70" y1="387.50" x2="95.30" y2="387.50" stroke="#5e1c32" stroke-width="1.1" />
<line x1="105.50" y1="356.50" x2="105.50" y2="394.50" stroke="#9e2446" stroke-width="1.0" />
<line x1="102.70" y1="356.50" x2="108.30" y2="356.50" stroke="#5e1c32" stroke-width="1.1" />
<line x1="102.70" y1="394.50" x2="108.30" y2="394.50" stroke="#5e1c32" stroke-width="1.1" />
<line x1="117.50" y1="340.50" x2="117.50" y2="390.50" stroke="#9e2446" stroke-width="1.0" />
<line x1="114.70" y1="340.50" x2="120.30" y2="340.50" stroke="#5e1c32" stroke-width="1.1" />
<line x1="114.70" y1="390.50" x2="120.30" y2="390.50" stroke="#5e1c32" stroke-width="1.1" />
<line x1="129.50" y1="371.50" x2="129.50" y2="395.50" stroke="#9e2446" stroke-width="1.0" />
<line x1="126.70" y1="371.50" x2="132.30" y2="371.50" stroke="#5e1c32" stroke-width="1.1" />
<line x1="126.70" y1="395.50" x2="132.30" y2="395.50" stroke="#5e1c32" stroke-width="1.1" />
<line x1="142.50" y1="365.50" x2="142.50" y2="395.50" stroke="#9e2446" stroke-width="1.0" />
<line x1="139.70" y1="365.50" x2="145.30" y2="365.50" stroke="#5e1c32" stroke-width="1.1" />
<line x1="139.70" y1="395.50" x2="145.30" y2="395.50" stroke="#5e1c32" stroke-width="1.1" />
<line x1="154.50" y1="385.50" x2="154.50" y2="406.50" stroke="#9e2446" stroke-width="1.0" />
<line x1="151.70" y1="385.50" x2="157.30" y2="385.50" stroke="#5e1c32" stroke-width="1.1" />
<line x1="151.70" y1="406.50" x2="157.30" y2="406.50" stroke="#5e1c32" stroke-width="1.1" />
<line x1="166.50" y1="382.50" x2="166.50" y2="402.50" stroke="#9e2446" stroke-width="1.0" />
<line x1="163.70" y1="382.50" x2="169.30" y2="382.50" stroke="#5e1c32" stroke-width="1.1" />
<line x1="163.70" y1="402.50" x2="169.30" y2="402.50" stroke="#5e1c32" stroke-width="1.1" />
<line x1="179.50" y1="388.50" x2="179.50" y2="405.50" stroke="#9e2446" stroke-width="1.0" />
<line x1="176.70" y1="388.50" x2="182.30" y2="388.50" stroke="#5e1c32" stroke-width="1.1" />
<line x1="176.70" y1="405.50" x2="182.30" y2="405.50" stroke="#5e1c32" stroke-width="1.1" />
<line x1="191.50" y1="372.50" x2="191.50" y2="402.50" stroke="#9e2446" stroke-width="1.0" />
<line x1="188.70" y1="372.50" x2="194.30" y2="372.50" stroke="#5e1c32" stroke-width="1.1" />
<line x1="188.70" y1="402.50" x2="194.30" y2="402.50" stroke="#5e1c32" stroke-width="1.1" />
<line x1="203.50" y1="368.50" x2="203.50" y2="391.50" stroke="#9e2446" stroke-width="1.0" />
<line x1="200.70" y1="368.50" x2="206.30" y2="368.50" stroke="#5e1c32" stroke-width="1.1" />
<line x1="200.70" y1="391.50" x2="206.30" y2="391.50" stroke="#5e1c32" stroke-width="1.1" />
<line x1="215.50" y1="378.50" x2="215.50" y2="405.50" stroke="#9e2446" stroke-width="1.0" />
<line x1="212.70" y1="378.50" x2="218.30" y2="378.50" stroke="#5e1c32" stroke-width="1.1" />
<line x1="212.70" y1="405.50" x2="218.30" y2="405.50" stroke="#5e1c32" stroke-width="1.1" />
<line x1="228.50" y1="383.50" x2="228.50" y2="402.50" stroke="#9e2446" stroke-width="1.0" />
<line x1="225.70" y1="383.50" x2="231.30" y2="383.50" stroke="#5e1c32" stroke-width="1.1" />
<line x1="225.70" y1="402.50" x2="231.30" y2="402.50" stroke="#5e1c32" stroke-width="1.1" />
<line x1="240.50" y1="383.50" x2="240.50" y2="398.50" stroke="#9e2446" stroke-width="1.0" />
<line x1="237.70" y1="383.50" x2="243.30" y2="383.50" stroke="#5e1c32" stroke-width="1.1" />
<line x1="237.70" y1="398.50" x2="243.30" y2="398.50" stroke="#5e1c32" stroke-width="1.1" />
<rect x="71.20" y="389.86" width="2.2" height="6.6" rx="0.8" fill="#0a0a0a"/>
<rect x="75.31" y="374.90" width="2.2" height="6.6" rx="0.8" fill="#0a0a0a"/>
<rect x="79.41" y="376.26" width="2.2" height="6.6" rx="0.8" fill="#0a0a0a"/>
<rect x="83.52" y="374.22" width="2.2" height="6.6" rx="0.8" fill="#0a0a0a"/>
<rect x="91.72" y="370.14" width="2.2" height="6.6" rx="0.8" fill="#0a0a0a"/>
<rect x="104.04" y="374.90" width="2.2" height="6.6" rx="0.8" fill="#0a0a0a"/>
<rect x="116.35" y="367.42" width="2.2" height="6.6" rx="0.8" fill="#0a0a0a"/>
<rect x="128.66" y="358.58" width="2.2" height="6.6" rx="0.8" fill="#0a0a0a"/>
<rect x="140.97" y="368.10" width="2.2" height="6.6" rx="0.8" fill="#0a0a0a"/>
<rect x="153.28" y="373.54" width="2.2" height="6.6" rx="0.8" fill="#0a0a0a"/>
<rect x="165.60" y="385.78" width="2.2" height="6.6" rx="0.8" fill="#0a0a0a"/>
<rect x="177.91" y="380.34" width="2.2" height="6.6" rx="0.8" fill="#0a0a0a"/>
<rect x="190.22" y="376.26" width="2.2" height="6.6" rx="0.8" fill="#0a0a0a"/>
<rect x="202.53" y="378.30" width="2.2" height="6.6" rx="0.8" fill="#0a0a0a"/>
<rect x="214.84" y="378.98" width="2.2" height="6.6" rx="0.8" fill="#0a0a0a"/>
<rect x="227.16" y="378.30" width="2.2" height="6.6" rx="0.8" fill="#0a0a0a"/>
<rect x="239.47" y="385.10" width="2.2" height="6.6" rx="0.8" fill="#0a0a0a"/>
<rect x="71.20" y="387.14" width="2.2" height="6.6" rx="0.8" fill="#0a0a0a"/>
<rect x="75.31" y="385.78" width="2.2" height="6.6" rx="0.8" fill="#0a0a0a"/>
<rect x="79.41" y="387.82" width="2.2" height="6.6" rx="0.8" fill="#0a0a0a"/>
<rect x="83.52" y="382.38" width="2.2" height="6.6" rx="0.8" fill="#0a0a0a"/>
<rect x="91.72" y="385.78" width="2.2" height="6.6" rx="0.8" fill="#0a0a0a"/>
<rect x="104.04" y="393.26" width="2.2" height="6.6" rx="0.8" fill="#0a0a0a"/>
<rect x="116.35" y="395.30" width="2.2" height="6.6" rx="0.8" fill="#0a0a0a"/>
<rect x="128.66" y="395.98" width="2.2" height="6.6" rx="0.8" fill="#0a0a0a"/>
<rect x="140.97" y="391.90" width="2.2" height="6.6" rx="0.8" fill="#0a0a0a"/>
<rect x="153.28" y="394.62" width="2.2" height="6.6" rx="0.8" fill="#0a0a0a"/>
<rect x="165.60" y="392.58" width="2.2" height="6.6" rx="0.8" fill="#0a0a0a"/>
<rect x="177.91" y="381.70" width="2.2" height="6.6" rx="0.8" fill="#0a0a0a"/>
<rect x="190.22" y="396.66" width="2.2" height="6.6" rx="0.8" fill="#0a0a0a"/>
<rect x="202.53" y="385.78" width="2.2" height="6.6" rx="0.8" fill="#0a0a0a"/>
<rect x="214.84" y="391.22" width="2.2" height="6.6" rx="0.8" fill="#0a0a0a"/>
<rect x="227.16" y="395.98" width="2.2" height="6.6" rx="0.8" fill="#0a0a0a"/>
<rect x="239.47" y="393.26" width="2.2" height="6.6" rx="0.8" fill="#0a0a0a"/>
<rect x="71.20" y="383.06" width="2.2" height="6.6" rx="0.8" fill="#0a0a0a"/>
<rect x="75.31" y="374.22" width="2.2" height="6.6" rx="0.8" fill="#0a0a0a"/>
<rect x="79.41" y="376.26" width="2.2" height="6.6" rx="0.8" fill="#0a0a0a"/>
<rect x="83.52" y="374.90" width="2.2" height="6.6" rx="0.8" fill="#0a0a0a"/>
<rect x="91.72" y="373.54" width="2.2" height="6.6" rx="0.8" fill="#0a0a0a"/>
<rect x="104.04" y="377.62" width="2.2" height="6.6" rx="0.8" fill="#0a0a0a"/>
<rect x="116.35" y="367.42" width="2.2" height="6.6" rx="0.8" fill="#0a0a0a"/>
<rect x="128.66" y="386.46" width="2.2" height="6.6" rx="0.8" fill="#0a0a0a"/>
<rect x="140.97" y="379.66" width="2.2" height="6.6" rx="0.8" fill="#0a0a0a"/>
<rect x="153.28" y="398.70" width="2.2" height="6.6" rx="0.8" fill="#0a0a0a"/>
<rect x="165.60" y="393.94" width="2.2" height="6.6" rx="0.8" fill="#0a0a0a"/>
<rect x="177.91" y="398.02" width="2.2" height="6.6" rx="0.8" fill="#0a0a0a"/>
<rect x="190.22" y="388.50" width="2.2" height="6.6" rx="0.8" fill="#0a0a0a"/>
<rect x="202.53" y="377.62" width="2.2" height="6.6" rx="0.8" fill="#0a0a0a"/>
<rect x="214.84" y="398.02" width="2.2" height="6.6" rx="0.8" fill="#0a0a0a"/>
<rect x="227.16" y="391.90" width="2.2" height="6.6" rx="0.8" fill="#0a0a0a"/>
<rect x="239.47" y="390.54" width="2.2" height="6.6" rx="0.8" fill="#0a0a0a"/>
<polyline points="72.30,393.16 76.41,378.20 80.51,379.56 84.62,377.52 92.82,373.44 105.14,378.20 117.45,370.72 129.76,361.88 142.07,371.40 154.38,376.84 166.70,389.08 179.01,383.64 191.32,379.56 203.63,381.60 215.94,382.28 228.26,381.60 240.57,388.40" fill="none" stroke="#6c9f48" stroke-width="1.75" stroke-linejoin="miter" stroke-miterlimit="3" />
<polyline points="72.30,390.44 76.41,389.08 80.51,391.12 84.62,385.68 92.82,389.08 105.14,396.56 117.45,398.60 129.76,399.28 142.07,395.20 154.38,397.92 166.70,395.88 179.01,385.00 191.32,399.96 203.63,389.08 215.94,394.52 228.26,399.28 240.57,396.56" fill="none" stroke="#24426e" stroke-width="1.75" stroke-linejoin="miter" stroke-miterlimit="3" />
<polyline points="72.30,386.36 76.41,377.52 80.51,379.56 84.62,378.20 92.82,376.84 105.14,380.92 117.45,370.72 129.76,389.76 142.07,382.96 154.38,402.00 166.70,397.24 179.01,401.32 191.32,391.80 203.63,380.92 215.94,401.32 228.26,395.20 240.57,393.84" fill="none" stroke="#9e1a3c" stroke-width="1.75" stroke-linejoin="miter" stroke-miterlimit="3" />
<text x="20.80" y="465.80" font-size="8" text-anchor="start" font-weight="bold" >Patients, n</text>
<text x="60.80" y="478.20" font-size="8" text-anchor="end" font-weight="normal" >&lt;25 mg</text>
<text x="72.30" y="478.20" font-size="8" text-anchor="middle" font-weight="normal" >9</text>
<text x="92.82" y="478.20" font-size="8" text-anchor="middle" font-weight="normal" >8</text>
<text x="117.45" y="478.20" font-size="8" text-anchor="middle" font-weight="normal" >6</text>
<text x="142.07" y="478.20" font-size="8" text-anchor="middle" font-weight="normal" >6</text>
<text x="166.70" y="478.20" font-size="8" text-anchor="middle" font-weight="normal" >5</text>
<text x="191.32" y="478.20" font-size="8" text-anchor="middle" font-weight="normal" >5</text>
<text x="215.94" y="478.20" font-size="8" text-anchor="middle" font-weight="normal" >5</text>
<text x="240.57" y="478.20" font-size="8" text-anchor="middle" font-weight="normal" >5</text>
<text x="60.80" y="490.00" font-size="8" text-anchor="end" font-weight="normal" >25–40 mg</text>
<text x="72.30" y="490.00" font-size="8" text-anchor="middle" font-weight="normal" >6</text>
<text x="92.82" y="490.00" font-size="8" text-anchor="middle" font-weight="normal" >5</text>
<text x="117.45" y="490.00" font-size="8" text-anchor="middle" font-weight="normal" >5</text>
<text x="142.07" y="490.00" font-size="8" text-anchor="middle" font-weight="normal" >5</text>
<text x="166.70" y="490.00" font-size="8" text-anchor="middle" font-weight="normal" >5</text>
<text x="191.32" y="490.00" font-size="8" text-anchor="middle" font-weight="normal" >5</text>
<text x="215.94" y="490.00" font-size="8" text-anchor="middle" font-weight="normal" >5</text>
<text x="240.57" y="490.00" font-size="8" text-anchor="middle" font-weight="normal" >5</text>
<text x="60.80" y="502.10" font-size="8" text-anchor="end" font-weight="normal" >&gt;40 mg</text>
<text x="72.30" y="502.10" font-size="8" text-anchor="middle" font-weight="normal" >7</text>
<text x="92.82" y="502.10" font-size="8" text-anchor="middle" font-weight="normal" >5</text>
<text x="117.45" y="502.10" font-size="8" text-anchor="middle" font-weight="normal" >5</text>
<text x="142.07" y="502.10" font-size="8" text-anchor="middle" font-weight="normal" >5</text>
<text x="166.70" y="502.10" font-size="8" text-anchor="middle" font-weight="normal" >4</text>
<text x="191.32" y="502.10" font-size="8" text-anchor="middle" font-weight="normal" >4</text>
<text x="215.94" y="502.10" font-size="8" text-anchor="middle" font-weight="normal" >4</text>
<text x="240.57" y="502.10" font-size="8" text-anchor="middle" font-weight="normal" >4</text>
<text transform="translate(7.90,531.60) scale(0.9,1)" font-size="14.2" font-weight="bold">C</text>
<line x1="66.30" y1="532.30" x2="66.30" y2="672.20" stroke="#000" stroke-width="1.5" />
<line x1="63.10" y1="671.50" x2="66.30" y2="671.50" stroke="#000" stroke-width="1.1" />
<text x="58.80" y="674.40" font-size="8.2" text-anchor="end" font-weight="normal" >80</text>
<line x1="63.10" y1="637.90" x2="66.30" y2="637.90" stroke="#000" stroke-width="1.1" />
<text x="58.80" y="640.80" font-size="8.2" text-anchor="end" font-weight="normal" >100</text>
<line x1="63.10" y1="604.30" x2="66.30" y2="604.30" stroke="#000" stroke-width="1.1" />
<text x="58.80" y="607.20" font-size="8.2" text-anchor="end" font-weight="normal" >120</text>
<line x1="63.10" y1="570.70" x2="66.30" y2="570.70" stroke="#000" stroke-width="1.1" />
<text x="58.80" y="573.60" font-size="8.2" text-anchor="end" font-weight="normal" >140</text>
<line x1="63.10" y1="537.10" x2="66.30" y2="537.10" stroke="#000" stroke-width="1.1" />
<text x="58.80" y="540.00" font-size="8.2" text-anchor="end" font-weight="normal" >160</text>
<line x1="63.10" y1="671.50" x2="240.00" y2="671.50" stroke="#000" stroke-width="1.5" />
<line x1="69.96" y1="671.50" x2="69.96" y2="674.70" stroke="#000" stroke-width="1.1" />
<text x="69.96" y="685.20" font-size="8.2" text-anchor="middle" font-weight="normal" >8</text>
<line x1="89.78" y1="671.50" x2="89.78" y2="674.70" stroke="#000" stroke-width="1.1" />
<text x="89.78" y="685.20" font-size="8.2" text-anchor="middle" font-weight="normal" >48</text>
<line x1="113.57" y1="671.50" x2="113.57" y2="674.70" stroke="#000" stroke-width="1.1" />
<text x="113.57" y="685.20" font-size="8.2" text-anchor="middle" font-weight="normal" >96</text>
<line x1="137.35" y1="671.50" x2="137.35" y2="674.70" stroke="#000" stroke-width="1.1" />
<text x="137.35" y="685.20" font-size="8.2" text-anchor="middle" font-weight="normal" >144</text>
<line x1="161.14" y1="671.50" x2="161.14" y2="674.70" stroke="#000" stroke-width="1.1" />
<text x="161.14" y="685.20" font-size="8.2" text-anchor="middle" font-weight="normal" >192</text>
<line x1="184.92" y1="671.50" x2="184.92" y2="674.70" stroke="#000" stroke-width="1.1" />
<text x="184.92" y="685.20" font-size="8.2" text-anchor="middle" font-weight="normal" >240</text>
<line x1="208.70" y1="671.50" x2="208.70" y2="674.70" stroke="#000" stroke-width="1.1" />
<text x="208.70" y="685.20" font-size="8.2" text-anchor="middle" font-weight="normal" >288</text>
<line x1="232.49" y1="671.50" x2="232.49" y2="674.70" stroke="#000" stroke-width="1.1" />
<text x="232.49" y="685.20" font-size="8.2" text-anchor="middle" font-weight="normal" >336</text>
<text x="153.30" y="697.40" font-size="9" text-anchor="middle" font-weight="normal" >Week</text>
<text transform="translate(37.90,601.50) rotate(-90)" font-size="9.35" text-anchor="middle">Median hemoglobin, g/L</text>
<line x1="69.50" y1="621.50" x2="69.50" y2="630.50" stroke="#84a468" stroke-width="1.0" />
<line x1="66.70" y1="621.50" x2="72.30" y2="621.50" stroke="#55663f" stroke-width="1.1" />
<line x1="66.70" y1="630.50" x2="72.30" y2="630.50" stroke="#55663f" stroke-width="1.1" />
<line x1="73.50" y1="617.50" x2="73.50" y2="629.50" stroke="#84a468" stroke-width="1.0" />
<line x1="70.70" y1="617.50" x2="76.30" y2="617.50" stroke="#55663f" stroke-width="1.1" />
<line x1="70.70" y1="629.50" x2="76.30" y2="629.50" stroke="#55663f" stroke-width="1.1" />
<line x1="77.50" y1="609.50" x2="77.50" y2="627.50" stroke="#84a468" stroke-width="1.0" />
<line x1="74.70" y1="609.50" x2="80.30" y2="609.50" stroke="#55663f" stroke-width="1.1" />
<line x1="74.70" y1="627.50" x2="80.30" y2="627.50" stroke="#55663f" stroke-width="1.1" />
<line x1="81.50" y1="616.50" x2="81.50" y2="630.50" stroke="#84a468" stroke-width="1.0" />
<line x1="78.70" y1="616.50" x2="84.30" y2="616.50" stroke="#55663f" stroke-width="1.1" />
<line x1="78.70" y1="630.50" x2="84.30" y2="630.50" stroke="#55663f" stroke-width="1.1" />
<line x1="89.50" y1="607.50" x2="89.50" y2="626.50" stroke="#84a468" stroke-width="1.0" />
<line x1="86.70" y1="607.50" x2="92.30" y2="607.50" stroke="#55663f" stroke-width="1.1" />
<line x1="86.70" y1="626.50" x2="92.30" y2="626.50" stroke="#55663f" stroke-width="1.1" />
<line x1="101.50" y1="607.50" x2="101.50" y2="639.50" stroke="#84a468" stroke-width="1.0" />
<line x1="98.70" y1="607.50" x2="104.30" y2="607.50" stroke="#55663f" stroke-width="1.1" />
<line x1="98.70" y1="639.50" x2="104.30" y2="639.50" stroke="#55663f" stroke-width="1.1" />
<line x1="113.50" y1="605.50" x2="113.50" y2="634.50" stroke="#84a468" stroke-width="1.0" />
<line x1="110.70" y1="605.50" x2="116.30" y2="605.50" stroke="#55663f" stroke-width="1.1" />
<line x1="110.70" y1="634.50" x2="116.30" y2="634.50" stroke="#55663f" stroke-width="1.1" />
<line x1="125.50" y1="612.50" x2="125.50" y2="642.50" stroke="#84a468" stroke-width="1.0" />
<line x1="122.70" y1="612.50" x2="128.30" y2="612.50" stroke="#55663f" stroke-width="1.1" />
<line x1="122.70" y1="642.50" x2="128.30" y2="642.50" stroke="#55663f" stroke-width="1.1" />
<line x1="137.50" y1="607.50" x2="137.50" y2="639.50" stroke="#84a468" stroke-width="1.0" />
<line x1="134.70" y1="607.50" x2="140.30" y2="607.50" stroke="#55663f" stroke-width="1.1" />
<line x1="134.70" y1="639.50" x2="140.30" y2="639.50" stroke="#55663f" stroke-width="1.1" />
<line x1="149.50" y1="616.50" x2="149.50" y2="621.50" stroke="#84a468" stroke-width="1.0" />
<line x1="146.70" y1="616.50" x2="152.30" y2="616.50" stroke="#55663f" stroke-width="1.1" />
<line x1="146.70" y1="621.50" x2="152.30" y2="621.50" stroke="#55663f" stroke-width="1.1" />
<line x1="161.50" y1="622.50" x2="161.50" y2="627.50" stroke="#84a468" stroke-width="1.0" />
<line x1="158.70" y1="622.50" x2="164.30" y2="622.50" stroke="#55663f" stroke-width="1.1" />
<line x1="158.70" y1="627.50" x2="164.30" y2="627.50" stroke="#55663f" stroke-width="1.1" />
<line x1="173.50" y1="601.50" x2="173.50" y2="625.50" stroke="#84a468" stroke-width="1.0" />
<line x1="170.70" y1="601.50" x2="176.30" y2="601.50" stroke="#55663f" stroke-width="1.1" />
<line x1="170.70" y1="625.50" x2="176.30" y2="625.50" stroke="#55663f" stroke-width="1.1" />
<line x1="184.50" y1="609.50" x2="184.50" y2="616.50" stroke="#84a468" stroke-width="1.0" />
<line x1="181.70" y1="609.50" x2="187.30" y2="609.50" stroke="#55663f" stroke-width="1.1" />
<line x1="181.70" y1="616.50" x2="187.30" y2="616.50" stroke="#55663f" stroke-width="1.1" />
<line x1="196.50" y1="611.50" x2="196.50" y2="619.50" stroke="#84a468" stroke-width="1.0" />
<line x1="193.70" y1="611.50" x2="199.30" y2="611.50" stroke="#55663f" stroke-width="1.1" />
<line x1="193.70" y1="619.50" x2="199.30" y2="619.50" stroke="#55663f" stroke-width="1.1" />
<line x1="208.50" y1="604.50" x2="208.50" y2="622.50" stroke="#84a468" stroke-width="1.0" />
<line x1="205.70" y1="604.50" x2="211.30" y2="604.50" stroke="#55663f" stroke-width="1.1" />
<line x1="205.70" y1="622.50" x2="211.30" y2="622.50" stroke="#55663f" stroke-width="1.1" />
<line x1="220.50" y1="605.50" x2="220.50" y2="612.50" stroke="#84a468" stroke-width="1.0" />
<line x1="217.70" y1="605.50" x2="223.30" y2="605.50" stroke="#55663f" stroke-width="1.1" />
<line x1="217.70" y1="612.50" x2="223.30" y2="612.50" stroke="#55663f" stroke-width="1.1" />
<line x1="232.50" y1="609.50" x2="232.50" y2="622.50" stroke="#84a468" stroke-width="1.0" />
<line x1="229.70" y1="609.50" x2="235.30" y2="609.50" stroke="#55663f" stroke-width="1.1" />
<line x1="229.70" y1="622.50" x2="235.30" y2="622.50" stroke="#55663f" stroke-width="1.1" />
<line x1="69.50" y1="607.50" x2="69.50" y2="627.50" stroke="#4a5a80" stroke-width="1.0" />
<line x1="66.70" y1="607.50" x2="72.30" y2="607.50" stroke="#2a3552" stroke-width="1.1" />
<line x1="66.70" y1="627.50" x2="72.30" y2="627.50" stroke="#2a3552" stroke-width="1.1" />
<line x1="73.50" y1="592.50" x2="73.50" y2="611.50" stroke="#4a5a80" stroke-width="1.0" />
<line x1="70.70" y1="592.50" x2="76.30" y2="592.50" stroke="#2a3552" stroke-width="1.1" />
<line x1="70.70" y1="611.50" x2="76.30" y2="611.50" stroke="#2a3552" stroke-width="1.1" />
<line x1="77.50" y1="582.50" x2="77.50" y2="617.50" stroke="#4a5a80" stroke-width="1.0" />
<line x1="74.70" y1="582.50" x2="80.30" y2="582.50" stroke="#2a3552" stroke-width="1.1" />
<line x1="74.70" y1="617.50" x2="80.30" y2="617.50" stroke="#2a3552" stroke-width="1.1" />
<line x1="81.50" y1="597.50" x2="81.50" y2="614.50" stroke="#4a5a80" stroke-width="1.0" />
<line x1="78.70" y1="597.50" x2="84.30" y2="597.50" stroke="#2a3552" stroke-width="1.1" />
<line x1="78.70" y1="614.50" x2="84.30" y2="614.50" stroke="#2a3552" stroke-width="1.1" />
<line x1="89.50" y1="578.50" x2="89.50" y2="592.50" stroke="#4a5a80" stroke-width="1.0" />
<line x1="86.70" y1="578.50" x2="92.30" y2="578.50" stroke="#2a3552" stroke-width="1.1" />
<line x1="86.70" y1="592.50" x2="92.30" y2="592.50" stroke="#2a3552" stroke-width="1.1" />
<line x1="101.50" y1="578.50" x2="101.50" y2="604.50" stroke="#4a5a80" stroke-width="1.0" />
<line x1="98.70" y1="578.50" x2="104.30" y2="578.50" stroke="#2a3552" stroke-width="1.1" />
<line x1="98.70" y1="604.50" x2="104.30" y2="604.50" stroke="#2a3552" stroke-width="1.1" />
<line x1="113.50" y1="592.50" x2="113.50" y2="605.50" stroke="#4a5a80" stroke-width="1.0" />
<line x1="110.70" y1="592.50" x2="116.30" y2="592.50" stroke="#2a3552" stroke-width="1.1" />
<line x1="110.70" y1="605.50" x2="116.30" y2="605.50" stroke="#2a3552" stroke-width="1.1" />
<line x1="125.50" y1="597.50" x2="125.50" y2="612.50" stroke="#4a5a80" stroke-width="1.0" />
<line x1="122.70" y1="597.50" x2="128.30" y2="597.50" stroke="#2a3552" stroke-width="1.1" />
<line x1="122.70" y1="612.50" x2="128.30" y2="612.50" stroke="#2a3552" stroke-width="1.1" />
<line x1="137.50" y1="565.50" x2="137.50" y2="614.50" stroke="#4a5a80" stroke-width="1.0" />
<line x1="134.70" y1="565.50" x2="140.30" y2="565.50" stroke="#2a3552" stroke-width="1.1" />
<line x1="134.70" y1="614.50" x2="140.30" y2="614.50" stroke="#2a3552" stroke-width="1.1" />
<line x1="149.50" y1="565.50" x2="149.50" y2="614.50" stroke="#4a5a80" stroke-width="1.0" />
<line x1="146.70" y1="565.50" x2="152.30" y2="565.50" stroke="#2a3552" stroke-width="1.1" />
<line x1="146.70" y1="614.50" x2="152.30" y2="614.50" stroke="#2a3552" stroke-width="1.1" />
<line x1="161.50" y1="574.50" x2="161.50" y2="617.50" stroke="#4a5a80" stroke-width="1.0" />
<line x1="158.70" y1="574.50" x2="164.30" y2="574.50" stroke="#2a3552" stroke-width="1.1" />
<line x1="158.70" y1="617.50" x2="164.30" y2="617.50" stroke="#2a3552" stroke-width="1.1" />
<line x1="173.50" y1="562.50" x2="173.50" y2="607.50" stroke="#4a5a80" stroke-width="1.0" />
<line x1="170.70" y1="562.50" x2="176.30" y2="562.50" stroke="#2a3552" stroke-width="1.1" />
<line x1="170.70" y1="607.50" x2="176.30" y2="607.50" stroke="#2a3552" stroke-width="1.1" />
<line x1="184.50" y1="566.50" x2="184.50" y2="605.50" stroke="#4a5a80" stroke-width="1.0" />
<line x1="181.70" y1="566.50" x2="187.30" y2="566.50" stroke="#2a3552" stroke-width="1.1" />
<line x1="181.70" y1="605.50" x2="187.30" y2="605.50" stroke="#2a3552" stroke-width="1.1" />
<line x1="196.50" y1="578.50" x2="196.50" y2="600.50" stroke="#4a5a80" stroke-width="1.0" />
<line x1="193.70" y1="578.50" x2="199.30" y2="578.50" stroke="#2a3552" stroke-width="1.1" />
<line x1="193.70" y1="600.50" x2="199.30" y2="600.50" stroke="#2a3552" stroke-width="1.1" />
<line x1="208.50" y1="565.50" x2="208.50" y2="605.50" stroke="#4a5a80" stroke-width="1.0" />
<line x1="205.70" y1="565.50" x2="211.30" y2="565.50" stroke="#2a3552" stroke-width="1.1" />
<line x1="205.70" y1="605.50" x2="211.30" y2="605.50" stroke="#2a3552" stroke-width="1.1" />
<line x1="220.50" y1="580.50" x2="220.50" y2="604.50" stroke="#4a5a80" stroke-width="1.0" />
<line x1="217.70" y1="580.50" x2="223.30" y2="580.50" stroke="#2a3552" stroke-width="1.1" />
<line x1="217.70" y1="604.50" x2="223.30" y2="604.50" stroke="#2a3552" stroke-width="1.1" />
<line x1="232.50" y1="581.50" x2="232.50" y2="605.50" stroke="#4a5a80" stroke-width="1.0" />
<line x1="229.70" y1="581.50" x2="235.30" y2="581.50" stroke="#2a3552" stroke-width="1.1" />
<line x1="229.70" y1="605.50" x2="235.30" y2="605.50" stroke="#2a3552" stroke-width="1.1" />
<line x1="69.50" y1="584.50" x2="69.50" y2="592.50" stroke="#9e2446" stroke-width="1.0" />
<line x1="66.70" y1="584.50" x2="72.30" y2="584.50" stroke="#5e1c32" stroke-width="1.1" />
<line x1="66.70" y1="592.50" x2="72.30" y2="592.50" stroke="#5e1c32" stroke-width="1.1" />
<line x1="73.50" y1="590.50" x2="73.50" y2="609.50" stroke="#9e2446" stroke-width="1.0" />
<line x1="70.70" y1="590.50" x2="76.30" y2="590.50" stroke="#5e1c32" stroke-width="1.1" />
<line x1="70.70" y1="609.50" x2="76.30" y2="609.50" stroke="#5e1c32" stroke-width="1.1" />
<line x1="77.50" y1="592.50" x2="77.50" y2="614.50" stroke="#9e2446" stroke-width="1.0" />
<line x1="74.70" y1="592.50" x2="80.30" y2="592.50" stroke="#5e1c32" stroke-width="1.1" />
<line x1="74.70" y1="614.50" x2="80.30" y2="614.50" stroke="#5e1c32" stroke-width="1.1" />
<line x1="81.50" y1="595.50" x2="81.50" y2="611.50" stroke="#9e2446" stroke-width="1.0" />
<line x1="78.70" y1="595.50" x2="84.30" y2="595.50" stroke="#5e1c32" stroke-width="1.1" />
<line x1="78.70" y1="611.50" x2="84.30" y2="611.50" stroke="#5e1c32" stroke-width="1.1" />
<line x1="89.50" y1="602.50" x2="89.50" y2="607.50" stroke="#9e2446" stroke-width="1.0" />
<line x1="86.70" y1="602.50" x2="92.30" y2="602.50" stroke="#5e1c32" stroke-width="1.1" />
<line x1="86.70" y1="607.50" x2="92.30" y2="607.50" stroke="#5e1c32" stroke-width="1.1" />
<line x1="101.50" y1="602.50" x2="101.50" y2="605.50" stroke="#9e2446" stroke-width="1.0" />
<line x1="98.70" y1="602.50" x2="104.30" y2="602.50" stroke="#5e1c32" stroke-width="1.1" />
<line x1="98.70" y1="605.50" x2="104.30" y2="605.50" stroke="#5e1c32" stroke-width="1.1" />
<line x1="113.50" y1="585.50" x2="113.50" y2="597.50" stroke="#9e2446" stroke-width="1.0" />
<line x1="110.70" y1="585.50" x2="116.30" y2="585.50" stroke="#5e1c32" stroke-width="1.1" />
<line x1="110.70" y1="597.50" x2="116.30" y2="597.50" stroke="#5e1c32" stroke-width="1.1" />
<line x1="125.50" y1="582.50" x2="125.50" y2="600.50" stroke="#9e2446" stroke-width="1.0" />
<line x1="122.70" y1="582.50" x2="128.30" y2="582.50" stroke="#5e1c32" stroke-width="1.1" />
<line x1="122.70" y1="600.50" x2="128.30" y2="600.50" stroke="#5e1c32" stroke-width="1.1" />
<line x1="137.50" y1="594.50" x2="137.50" y2="604.50" stroke="#9e2446" stroke-width="1.0" />
<line x1="134.70" y1="594.50" x2="140.30" y2="594.50" stroke="#5e1c32" stroke-width="1.1" />
<line x1="134.70" y1="604.50" x2="140.30" y2="604.50" stroke="#5e1c32" stroke-width="1.1" />
<line x1="149.50" y1="589.50" x2="149.50" y2="602.50" stroke="#9e2446" stroke-width="1.0" />
<line x1="146.70" y1="589.50" x2="152.30" y2="589.50" stroke="#5e1c32" stroke-width="1.1" />
<line x1="146.70" y1="602.50" x2="152.30" y2="602.50" stroke="#5e1c32" stroke-width="1.1" />
<line x1="161.50" y1="584.50" x2="161.50" y2="602.50" stroke="#9e2446" stroke-width="1.0" />
<line x1="158.70" y1="584.50" x2="164.30" y2="584.50" stroke="#5e1c32" stroke-width="1.1" />
<line x1="158.70" y1="602.50" x2="164.30" y2="602.50" stroke="#5e1c32" stroke-width="1.1" />
<line x1="173.50" y1="585.50" x2="173.50" y2="600.50" stroke="#9e2446" stroke-width="1.0" />
<line x1="170.70" y1="585.50" x2="176.30" y2="585.50" stroke="#5e1c32" stroke-width="1.1" />
<line x1="170.70" y1="600.50" x2="176.30" y2="600.50" stroke="#5e1c32" stroke-width="1.1" />
<line x1="184.50" y1="586.50" x2="184.50" y2="603.50" stroke="#9e2446" stroke-width="1.0" />
<line x1="181.70" y1="586.50" x2="187.30" y2="586.50" stroke="#5e1c32" stroke-width="1.1" />
<line x1="181.70" y1="603.50" x2="187.30" y2="603.50" stroke="#5e1c32" stroke-width="1.1" />
<line x1="196.50" y1="590.50" x2="196.50" y2="601.50" stroke="#9e2446" stroke-width="1.0" />
<line x1="193.70" y1="590.50" x2="199.30" y2="590.50" stroke="#5e1c32" stroke-width="1.1" />
<line x1="193.70" y1="601.50" x2="199.30" y2="601.50" stroke="#5e1c32" stroke-width="1.1" />
<line x1="208.50" y1="594.50" x2="208.50" y2="605.50" stroke="#9e2446" stroke-width="1.0" />
<line x1="205.70" y1="594.50" x2="211.30" y2="594.50" stroke="#5e1c32" stroke-width="1.1" />
<line x1="205.70" y1="605.50" x2="211.30" y2="605.50" stroke="#5e1c32" stroke-width="1.1" />
<line x1="220.50" y1="583.50" x2="220.50" y2="601.50" stroke="#9e2446" stroke-width="1.0" />
<line x1="217.70" y1="583.50" x2="223.30" y2="583.50" stroke="#5e1c32" stroke-width="1.1" />
<line x1="217.70" y1="601.50" x2="223.30" y2="601.50" stroke="#5e1c32" stroke-width="1.1" />
<line x1="232.50" y1="589.50" x2="232.50" y2="605.50" stroke="#9e2446" stroke-width="1.0" />
<line x1="229.70" y1="589.50" x2="235.30" y2="589.50" stroke="#5e1c32" stroke-width="1.1" />
<line x1="229.70" y1="605.50" x2="235.30" y2="605.50" stroke="#5e1c32" stroke-width="1.1" />
<rect x="68.86" y="622.17" width="2.2" height="6.6" rx="0.8" fill="#0a0a0a"/>
<rect x="72.83" y="619.65" width="2.2" height="6.6" rx="0.8" fill="#0a0a0a"/>
<rect x="76.79" y="611.08" width="2.2" height="6.6" rx="0.8" fill="#0a0a0a"/>
<rect x="80.76" y="616.96" width="2.2" height="6.6" rx="0.8" fill="#0a0a0a"/>
<rect x="88.68" y="611.92" width="2.2" height="6.6" rx="0.8" fill="#0a0a0a"/>
<rect x="100.58" y="609.23" width="2.2" height="6.6" rx="0.8" fill="#0a0a0a"/>
<rect x="112.47" y="607.55" width="2.2" height="6.6" rx="0.8" fill="#0a0a0a"/>
<rect x="124.36" y="614.44" width="2.2" height="6.6" rx="0.8" fill="#0a0a0a"/>
<rect x="136.25" y="608.39" width="2.2" height="6.6" rx="0.8" fill="#0a0a0a"/>
<rect x="148.14" y="615.62" width="2.2" height="6.6" rx="0.8" fill="#0a0a0a"/>
<rect x="160.04" y="622.34" width="2.2" height="6.6" rx="0.8" fill="#0a0a0a"/>
<rect x="171.93" y="608.73" width="2.2" height="6.6" rx="0.8" fill="#0a0a0a"/>
<rect x="183.82" y="609.74" width="2.2" height="6.6" rx="0.8" fill="#0a0a0a"/>
<rect x="195.71" y="612.42" width="2.2" height="6.6" rx="0.8" fill="#0a0a0a"/>
<rect x="207.60" y="605.54" width="2.2" height="6.6" rx="0.8" fill="#0a0a0a"/>
<rect x="219.50" y="605.54" width="2.2" height="6.6" rx="0.8" fill="#0a0a0a"/>
<rect x="231.39" y="609.74" width="2.2" height="6.6" rx="0.8" fill="#0a0a0a"/>
<rect x="68.86" y="616.12" width="2.2" height="6.6" rx="0.8" fill="#0a0a0a"/>
<rect x="72.83" y="597.30" width="2.2" height="6.6" rx="0.8" fill="#0a0a0a"/>
<rect x="76.79" y="598.48" width="2.2" height="6.6" rx="0.8" fill="#0a0a0a"/>
<rect x="80.76" y="601.34" width="2.2" height="6.6" rx="0.8" fill="#0a0a0a"/>
<rect x="88.68" y="584.54" width="2.2" height="6.6" rx="0.8" fill="#0a0a0a"/>
<rect x="100.58" y="594.78" width="2.2" height="6.6" rx="0.8" fill="#0a0a0a"/>
<rect x="112.47" y="596.63" width="2.2" height="6.6" rx="0.8" fill="#0a0a0a"/>
<rect x="124.36" y="603.35" width="2.2" height="6.6" rx="0.8" fill="#0a0a0a"/>
<rect x="136.25" y="604.19" width="2.2" height="6.6" rx="0.8" fill="#0a0a0a"/>
<rect x="148.14" y="608.56" width="2.2" height="6.6" rx="0.8" fill="#0a0a0a"/>
<rect x="160.04" y="608.56" width="2.2" height="6.6" rx="0.8" fill="#0a0a0a"/>
<rect x="171.93" y="587.90" width="2.2" height="6.6" rx="0.8" fill="#0a0a0a"/>
<rect x="183.82" y="594.62" width="2.2" height="6.6" rx="0.8" fill="#0a0a0a"/>
<rect x="195.71" y="591.59" width="2.2" height="6.6" rx="0.8" fill="#0a0a0a"/>
<rect x="207.60" y="592.10" width="2.2" height="6.6" rx="0.8" fill="#0a0a0a"/>
<rect x="219.50" y="591.59" width="2.2" height="6.6" rx="0.8" fill="#0a0a0a"/>
<rect x="231.39" y="594.28" width="2.2" height="6.6" rx="0.8" fill="#0a0a0a"/>
<rect x="68.86" y="584.54" width="2.2" height="6.6" rx="0.8" fill="#0a0a0a"/>
<rect x="72.83" y="594.78" width="2.2" height="6.6" rx="0.8" fill="#0a0a0a"/>
<rect x="76.79" y="597.64" width="2.2" height="6.6" rx="0.8" fill="#0a0a0a"/>
<rect x="80.76" y="602.18" width="2.2" height="6.6" rx="0.8" fill="#0a0a0a"/>
<rect x="88.68" y="602.18" width="2.2" height="6.6" rx="0.8" fill="#0a0a0a"/>
<rect x="100.58" y="600.83" width="2.2" height="6.6" rx="0.8" fill="#0a0a0a"/>
<rect x="112.47" y="586.22" width="2.2" height="6.6" rx="0.8" fill="#0a0a0a"/>
<rect x="124.36" y="582.02" width="2.2" height="6.6" rx="0.8" fill="#0a0a0a"/>
<rect x="136.25" y="593.94" width="2.2" height="6.6" rx="0.8" fill="#0a0a0a"/>
<rect x="148.14" y="591.26" width="2.2" height="6.6" rx="0.8" fill="#0a0a0a"/>
<rect x="160.04" y="589.07" width="2.2" height="6.6" rx="0.8" fill="#0a0a0a"/>
<rect x="171.93" y="588.06" width="2.2" height="6.6" rx="0.8" fill="#0a0a0a"/>
<rect x="183.82" y="589.07" width="2.2" height="6.6" rx="0.8" fill="#0a0a0a"/>
<rect x="195.71" y="592.10" width="2.2" height="6.6" rx="0.8" fill="#0a0a0a"/>
<rect x="207.60" y="596.30" width="2.2" height="6.6" rx="0.8" fill="#0a0a0a"/>
<rect x="219.50" y="591.59" width="2.2" height="6.6" rx="0.8" fill="#0a0a0a"/>
<rect x="231.39" y="594.28" width="2.2" height="6.6" rx="0.8" fill="#0a0a0a"/>
<polyline points="69.96,625.47 73.93,622.95 77.89,614.38 81.86,620.26 89.78,615.22 101.68,612.53 113.57,610.85 125.46,617.74 137.35,611.69 149.24,618.92 161.14,625.64 173.03,612.03 184.92,613.04 196.81,615.72 208.70,608.84 220.60,608.84 232.49,613.04" fill="none" stroke="#6c9f48" stroke-width="1.75" stroke-linejoin="miter" stroke-miterlimit="3" />
<polyline points="69.96,619.42 73.93,600.60 77.89,601.78 81.86,604.64 89.78,587.84 101.68,598.08 113.57,599.93 125.46,606.65 137.35,607.49 149.24,611.86 161.14,611.86 173.03,591.20 184.92,597.92 196.81,594.89 208.70,595.40 220.60,594.89 232.49,597.58" fill="none" stroke="#24426e" stroke-width="1.75" stroke-linejoin="miter" stroke-miterlimit="3" />
<polyline points="69.96,587.84 73.93,598.08 77.89,600.94 81.86,605.48 89.78,605.48 101.68,604.13 113.57,589.52 125.46,585.32 137.35,597.24 149.24,594.56 161.14,592.37 173.03,591.36 184.92,592.37 196.81,595.40 208.70,599.60 220.60,594.89 232.49,597.58" fill="none" stroke="#9e1a3c" stroke-width="1.75" stroke-linejoin="miter" stroke-miterlimit="3" />
<text x="18.90" y="705.40" font-size="8" text-anchor="start" font-weight="bold" >Patients, n</text>
<text x="58.90" y="717.70" font-size="8" text-anchor="end" font-weight="normal" >&lt;25 mg</text>
<text x="69.96" y="717.70" font-size="8" text-anchor="middle" font-weight="normal" >9</text>
<text x="89.78" y="717.70" font-size="8" text-anchor="middle" font-weight="normal" >8</text>
<text x="113.57" y="717.70" font-size="8" text-anchor="middle" font-weight="normal" >6</text>
<text x="137.35" y="717.70" font-size="8" text-anchor="middle" font-weight="normal" >6</text>
<text x="161.14" y="717.70" font-size="8" text-anchor="middle" font-weight="normal" >5</text>
<text x="184.92" y="717.70" font-size="8" text-anchor="middle" font-weight="normal" >5</text>
<text x="208.70" y="717.70" font-size="8" text-anchor="middle" font-weight="normal" >5</text>
<text x="232.49" y="717.70" font-size="8" text-anchor="middle" font-weight="normal" >5</text>
<text x="58.90" y="729.40" font-size="8" text-anchor="end" font-weight="normal" >25–40 mg</text>
<text x="69.96" y="729.40" font-size="8" text-anchor="middle" font-weight="normal" >6</text>
<text x="89.78" y="729.40" font-size="8" text-anchor="middle" font-weight="normal" >5</text>
<text x="113.57" y="729.40" font-size="8" text-anchor="middle" font-weight="normal" >5</text>
<text x="137.35" y="729.40" font-size="8" text-anchor="middle" font-weight="normal" >5</text>
<text x="161.14" y="729.40" font-size="8" text-anchor="middle" font-weight="normal" >5</text>
<text x="184.92" y="729.40" font-size="8" text-anchor="middle" font-weight="normal" >5</text>
<text x="208.70" y="729.40" font-size="8" text-anchor="middle" font-weight="normal" >5</text>
<text x="232.49" y="729.40" font-size="8" text-anchor="middle" font-weight="normal" >5</text>
<text x="58.90" y="741.50" font-size="8" text-anchor="end" font-weight="normal" >&gt;40 mg</text>
<text x="69.96" y="741.50" font-size="8" text-anchor="middle" font-weight="normal" >7</text>
<text x="89.78" y="741.50" font-size="8" text-anchor="middle" font-weight="normal" >5</text>
<text x="113.57" y="741.50" font-size="8" text-anchor="middle" font-weight="normal" >5</text>
<text x="137.35" y="741.50" font-size="8" text-anchor="middle" font-weight="normal" >5</text>
<text x="161.14" y="741.50" font-size="8" text-anchor="middle" font-weight="normal" >4</text>
<text x="184.92" y="741.50" font-size="8" text-anchor="middle" font-weight="normal" >4</text>
<text x="208.70" y="741.50" font-size="8" text-anchor="middle" font-weight="normal" >4</text>
<text x="232.49" y="741.50" font-size="8" text-anchor="middle" font-weight="normal" >4</text>
<text transform="translate(265.50,53.40) scale(0.9,1)" font-size="14.2" font-weight="bold">D</text>
<line x1="330.20" y1="54.50" x2="330.20" y2="194.40" stroke="#000" stroke-width="1.5" />
<line x1="327.00" y1="193.70" x2="330.20" y2="193.70" stroke="#000" stroke-width="1.1" />
<text x="323.40" y="196.60" font-size="8.2" text-anchor="end" font-weight="normal" >0</text>
<line x1="327.00" y1="159.61" x2="330.20" y2="159.61" stroke="#000" stroke-width="1.1" />
<text x="323.40" y="162.51" font-size="8.2" text-anchor="end" font-weight="normal" >25</text>
<line x1="327.00" y1="125.52" x2="330.20" y2="125.52" stroke="#000" stroke-width="1.1" />
<text x="323.40" y="128.42" font-size="8.2" text-anchor="end" font-weight="normal" >50</text>
<line x1="327.00" y1="91.44" x2="330.20" y2="91.44" stroke="#000" stroke-width="1.1" />
<text x="323.40" y="94.34" font-size="8.2" text-anchor="end" font-weight="normal" >75</text>
<line x1="327.00" y1="57.35" x2="330.20" y2="57.35" stroke="#000" stroke-width="1.1" />
<text x="323.40" y="60.25" font-size="8.2" text-anchor="end" font-weight="normal" >100</text>
<line x1="327.00" y1="193.70" x2="509.00" y2="193.70" stroke="#000" stroke-width="1.5" />
<line x1="330.20" y1="193.70" x2="330.20" y2="196.90" stroke="#000" stroke-width="1.1" />
<text x="330.20" y="206.80" font-size="8.2" text-anchor="middle" font-weight="normal" >0</text>
<line x1="354.06" y1="193.70" x2="354.06" y2="196.90" stroke="#000" stroke-width="1.1" />
<text x="354.06" y="206.80" font-size="8.2" text-anchor="middle" font-weight="normal" >48</text>
<line x1="377.91" y1="193.70" x2="377.91" y2="196.90" stroke="#000" stroke-width="1.1" />
<text x="377.91" y="206.80" font-size="8.2" text-anchor="middle" font-weight="normal" >96</text>
<line x1="401.77" y1="193.70" x2="401.77" y2="196.90" stroke="#000" stroke-width="1.1" />
<text x="401.77" y="206.80" font-size="8.2" text-anchor="middle" font-weight="normal" >144</text>
<line x1="425.62" y1="193.70" x2="425.62" y2="196.90" stroke="#000" stroke-width="1.1" />
<text x="425.62" y="206.80" font-size="8.2" text-anchor="middle" font-weight="normal" >192</text>
<line x1="449.48" y1="193.70" x2="449.48" y2="196.90" stroke="#000" stroke-width="1.1" />
<text x="449.48" y="206.80" font-size="8.2" text-anchor="middle" font-weight="normal" >240</text>
<line x1="473.34" y1="193.70" x2="473.34" y2="196.90" stroke="#000" stroke-width="1.1" />
<text x="473.34" y="206.80" font-size="8.2" text-anchor="middle" font-weight="normal" >288</text>
<line x1="497.19" y1="193.70" x2="497.19" y2="196.90" stroke="#000" stroke-width="1.1" />
<text x="497.19" y="206.80" font-size="8.2" text-anchor="middle" font-weight="normal" >336</text>
<text x="419.60" y="218.50" font-size="9" text-anchor="middle" font-weight="normal" >Week</text>
<text transform="translate(288.70,124.90) rotate(-90)" font-size="9.45" text-anchor="middle">Patients, %</text>
<text transform="translate(301.00,124.50) rotate(-90)" font-size="9.45" text-anchor="middle">(platelet count ≤400 × 10<tspan dy="-3" font-size="6.3">9</tspan><tspan dy="3">/L)</tspan></text>
<polyline points="330.40,133.00 332.40,132.60 334.60,137.50 337.80,178.50 340.00,163.30 342.10,178.50 344.40,163.30 354.60,163.30 359.80,133.00 365.60,148.80 377.70,148.80 383.80,163.30 388.70,163.30 396.30,148.80 402.10,148.80 407.90,163.30 503.70,163.30" fill="none" stroke="#6c9f48" stroke-width="1.5" stroke-linejoin="miter" stroke-miterlimit="3" />
<polyline points="330.40,126.00 332.50,128.00 336.70,188.00 339.60,181.30 341.90,188.00 344.40,181.30 354.60,181.30 360.80,169.00 365.60,169.00 372.30,175.80 377.70,175.80 383.80,181.30 388.70,175.80 401.20,175.80 407.90,181.30 431.50,181.30 437.30,175.80 443.50,181.30 448.80,175.80 473.80,175.80 478.70,181.30 484.40,175.80 496.90,175.80 503.70,170.40" fill="none" stroke="#3a3a42" stroke-width="1.5" stroke-linejoin="miter" stroke-miterlimit="3" />
<polyline points="330.40,112.00 332.40,102.30 336.20,193.70 443.50,193.70 449.80,170.90 473.80,170.90 479.20,193.70 486.30,170.90 503.70,170.90" fill="none" stroke="#24426e" stroke-width="1.5" stroke-linejoin="miter" stroke-miterlimit="3" />
<polyline points="330.40,193.70 331.40,174.80 334.40,174.80 336.60,193.70 360.80,193.70 365.60,174.80 371.30,193.70 384.20,193.70 389.20,174.80 395.40,193.70 432.50,193.70 437.30,174.80 443.00,193.70 496.90,193.70 503.70,174.80" fill="none" stroke="#9e1a3c" stroke-width="1.5" stroke-linejoin="miter" stroke-miterlimit="3" />
<text x="282.70" y="225.60" font-size="8" text-anchor="start" font-weight="bold" >Patients, n</text>
<text x="323.20" y="237.50" font-size="8" text-anchor="end" font-weight="normal" >&lt;25 mg</text>
<text x="330.60" y="237.50" font-size="8" text-anchor="middle" font-weight="normal" >9</text>
<text x="353.90" y="237.50" font-size="8" text-anchor="middle" font-weight="normal" >9</text>
<text x="379.20" y="237.50" font-size="8" text-anchor="middle" font-weight="normal" >9</text>
<text x="402.90" y="237.50" font-size="8" text-anchor="middle" font-weight="normal" >9</text>
<text x="427.60" y="237.50" font-size="8" text-anchor="middle" font-weight="normal" >9</text>
<text x="451.70" y="237.50" font-size="8" text-anchor="middle" font-weight="normal" >9</text>
<text x="475.80" y="237.50" font-size="8" text-anchor="middle" font-weight="normal" >9</text>
<text x="500.80" y="237.50" font-size="8" text-anchor="middle" font-weight="normal" >9</text>
<text x="323.20" y="249.60" font-size="8" text-anchor="end" font-weight="normal" >25–40 mg</text>
<text x="330.60" y="249.60" font-size="8" text-anchor="middle" font-weight="normal" >5</text>
<text x="353.90" y="249.60" font-size="8" text-anchor="middle" font-weight="normal" >6</text>
<text x="379.20" y="249.60" font-size="8" text-anchor="middle" font-weight="normal" >6</text>
<text x="402.90" y="249.60" font-size="8" text-anchor="middle" font-weight="normal" >6</text>
<text x="427.60" y="249.60" font-size="8" text-anchor="middle" font-weight="normal" >6</text>
<text x="451.70" y="249.60" font-size="8" text-anchor="middle" font-weight="normal" >6</text>
<text x="475.80" y="249.60" font-size="8" text-anchor="middle" font-weight="normal" >6</text>
<text x="500.80" y="249.60" font-size="8" text-anchor="middle" font-weight="normal" >6</text>
<text x="323.20" y="261.90" font-size="8" text-anchor="end" font-weight="normal" >&gt;40 mg</text>
<text x="330.60" y="261.90" font-size="8" text-anchor="middle" font-weight="normal" >7</text>
<text x="353.90" y="261.90" font-size="8" text-anchor="middle" font-weight="normal" >7</text>
<text x="379.20" y="261.90" font-size="8" text-anchor="middle" font-weight="normal" >7</text>
<text x="402.90" y="261.90" font-size="8" text-anchor="middle" font-weight="normal" >7</text>
<text x="427.60" y="261.90" font-size="8" text-anchor="middle" font-weight="normal" >7</text>
<text x="451.70" y="261.90" font-size="8" text-anchor="middle" font-weight="normal" >7</text>
<text x="475.80" y="261.90" font-size="8" text-anchor="middle" font-weight="normal" >7</text>
<text x="500.80" y="261.90" font-size="8" text-anchor="middle" font-weight="normal" >7</text>
<text transform="translate(265.50,291.70) scale(0.9,1)" font-size="14.2" font-weight="bold">E</text>
<line x1="330.20" y1="293.30" x2="330.20" y2="432.50" stroke="#000" stroke-width="1.5" />
<line x1="327.00" y1="431.80" x2="330.20" y2="431.80" stroke="#000" stroke-width="1.1" />
<text x="322.80" y="434.70" font-size="8.2" text-anchor="end" font-weight="normal" >0</text>
<line x1="327.00" y1="397.88" x2="330.20" y2="397.88" stroke="#000" stroke-width="1.1" />
<text x="322.80" y="400.77" font-size="8.2" text-anchor="end" font-weight="normal" >25</text>
<line x1="327.00" y1="363.95" x2="330.20" y2="363.95" stroke="#000" stroke-width="1.1" />
<text x="322.80" y="366.85" font-size="8.2" text-anchor="end" font-weight="normal" >50</text>
<line x1="327.00" y1="330.02" x2="330.20" y2="330.02" stroke="#000" stroke-width="1.1" />
<text x="322.80" y="332.92" font-size="8.2" text-anchor="end" font-weight="normal" >75</text>
<line x1="327.00" y1="296.10" x2="330.20" y2="296.10" stroke="#000" stroke-width="1.1" />
<text x="322.80" y="299.00" font-size="8.2" text-anchor="end" font-weight="normal" >100</text>
<line x1="327.00" y1="431.80" x2="509.20" y2="431.80" stroke="#000" stroke-width="1.5" />
<line x1="330.20" y1="431.80" x2="330.20" y2="435.00" stroke="#000" stroke-width="1.1" />
<text x="330.20" y="445.50" font-size="8.2" text-anchor="middle" font-weight="normal" >0</text>
<line x1="354.06" y1="431.80" x2="354.06" y2="435.00" stroke="#000" stroke-width="1.1" />
<text x="354.06" y="445.50" font-size="8.2" text-anchor="middle" font-weight="normal" >48</text>
<line x1="377.91" y1="431.80" x2="377.91" y2="435.00" stroke="#000" stroke-width="1.1" />
<text x="377.91" y="445.50" font-size="8.2" text-anchor="middle" font-weight="normal" >96</text>
<line x1="401.77" y1="431.80" x2="401.77" y2="435.00" stroke="#000" stroke-width="1.1" />
<text x="401.77" y="445.50" font-size="8.2" text-anchor="middle" font-weight="normal" >144</text>
<line x1="425.62" y1="431.80" x2="425.62" y2="435.00" stroke="#000" stroke-width="1.1" />
<text x="425.62" y="445.50" font-size="8.2" text-anchor="middle" font-weight="normal" >192</text>
<line x1="449.48" y1="431.80" x2="449.48" y2="435.00" stroke="#000" stroke-width="1.1" />
<text x="449.48" y="445.50" font-size="8.2" text-anchor="middle" font-weight="normal" >240</text>
<line x1="473.34" y1="431.80" x2="473.34" y2="435.00" stroke="#000" stroke-width="1.1" />
<text x="473.34" y="445.50" font-size="8.2" text-anchor="middle" font-weight="normal" >288</text>
<line x1="497.19" y1="431.80" x2="497.19" y2="435.00" stroke="#000" stroke-width="1.1" />
<text x="497.19" y="445.50" font-size="8.2" text-anchor="middle" font-weight="normal" >336</text>
<text x="419.60" y="457.40" font-size="9" text-anchor="middle" font-weight="normal" >Week</text>
<text transform="translate(288.70,361.00) rotate(-90)" font-size="9.45" text-anchor="middle">Patients, %</text>
<text transform="translate(301.00,361.90) rotate(-90)" font-size="9.45" text-anchor="middle">(platelet count ≤600 × 10<tspan dy="-3" font-size="6.3">9</tspan><tspan dy="3">/L)</tspan></text>
<polyline points="330.60,318.60 332.20,312.00 333.60,357.70 336.00,352.00 338.60,346.00 343.60,347.00 346.00,347.50 352.00,363.70 355.00,381.00 388.60,381.00 394.60,364.40 400.70,381.00 407.60,364.40 413.80,385.00 419.20,398.00 425.40,381.70 431.50,398.00 455.20,398.00 461.00,381.70 466.70,398.00 478.30,398.00 485.00,415.40 491.70,398.00 502.70,398.00" fill="none" stroke="#6c9f48" stroke-width="1.5" stroke-linejoin="miter" stroke-miterlimit="3" />
<polyline points="330.60,330.00 332.40,350.00 334.60,370.00 338.40,376.00 341.80,358.00 344.40,362.00 347.80,371.00 351.00,366.00 355.00,376.90 365.70,357.70 370.40,364.40 378.20,384.80 383.00,384.80 389.40,364.40 395.50,364.40 401.50,357.70 406.70,364.40 412.80,371.00 419.60,369.20 425.00,357.70 431.50,377.00 436.90,369.20 441.70,374.00 448.50,371.20 455.20,371.20 461.00,364.40 473.50,364.40 478.80,377.90 490.80,364.40 497.50,377.00 502.70,364.40" fill="none" stroke="#3a3a42" stroke-width="1.5" stroke-linejoin="miter" stroke-miterlimit="3" />
<polyline points="330.60,318.60 332.30,341.29 335.80,341.29 338.40,386.61 341.50,341.29 344.40,341.29 347.80,370.90 355.00,386.61 365.70,318.76 383.90,384.00 389.40,341.29 395.50,341.29 401.50,318.76 407.20,341.29 419.20,341.29 425.40,318.76 431.50,341.29 437.30,341.29 442.70,323.00 449.40,318.76 473.50,318.76 478.80,363.50 485.00,318.76 490.80,318.76 497.50,341.29 502.70,318.76" fill="none" stroke="#24426e" stroke-width="1.5" stroke-linejoin="miter" stroke-miterlimit="3" />
<polyline points="330.60,363.95 332.00,363.95 334.60,386.61 339.40,363.95 342.40,386.61 346.00,363.95 349.00,386.61 352.00,363.95 370.40,363.95 378.20,409.00 389.40,363.95 395.50,386.61 401.50,363.95 406.70,386.61 413.80,386.61 419.20,363.95 425.40,363.95 431.50,386.61 437.30,363.95 443.70,386.61 461.00,386.61 466.70,363.95 490.80,363.95 497.50,386.61 502.70,363.95" fill="none" stroke="#9e1a3c" stroke-width="1.5" stroke-linejoin="miter" stroke-miterlimit="3" />
<text x="282.60" y="465.40" font-size="8" text-anchor="start" font-weight="bold" >Patients, n</text>
<text x="323.00" y="477.40" font-size="8" text-anchor="end" font-weight="normal" >&lt;25 mg</text>
<text x="330.20" y="477.40" font-size="8" text-anchor="middle" font-weight="normal" >8</text>
<text x="354.06" y="477.40" font-size="8" text-anchor="middle" font-weight="normal" >8</text>
<text x="377.91" y="477.40" font-size="8" text-anchor="middle" font-weight="normal" >8</text>
<text x="401.77" y="477.40" font-size="8" text-anchor="middle" font-weight="normal" >8</text>
<text x="425.62" y="477.40" font-size="8" text-anchor="middle" font-weight="normal" >8</text>
<text x="449.48" y="477.40" font-size="8" text-anchor="middle" font-weight="normal" >8</text>
<text x="473.34" y="477.40" font-size="8" text-anchor="middle" font-weight="normal" >8</text>
<text x="497.19" y="477.40" font-size="8" text-anchor="middle" font-weight="normal" >8</text>
<text x="323.00" y="489.70" font-size="8" text-anchor="end" font-weight="normal" >25–40 mg</text>
<text x="330.20" y="489.70" font-size="8" text-anchor="middle" font-weight="normal" >5</text>
<text x="354.06" y="489.70" font-size="8" text-anchor="middle" font-weight="normal" >6</text>
<text x="377.91" y="489.70" font-size="8" text-anchor="middle" font-weight="normal" >6</text>
<text x="401.77" y="489.70" font-size="8" text-anchor="middle" font-weight="normal" >6</text>
<text x="425.62" y="489.70" font-size="8" text-anchor="middle" font-weight="normal" >6</text>
<text x="449.48" y="489.70" font-size="8" text-anchor="middle" font-weight="normal" >6</text>
<text x="473.34" y="489.70" font-size="8" text-anchor="middle" font-weight="normal" >6</text>
<text x="497.19" y="489.70" font-size="8" text-anchor="middle" font-weight="normal" >6</text>
<text x="323.00" y="501.50" font-size="8" text-anchor="end" font-weight="normal" >&gt;40 mg</text>
<text x="330.20" y="501.50" font-size="8" text-anchor="middle" font-weight="normal" >6</text>
<text x="354.06" y="501.50" font-size="8" text-anchor="middle" font-weight="normal" >6</text>
<text x="377.91" y="501.50" font-size="8" text-anchor="middle" font-weight="normal" >6</text>
<text x="401.77" y="501.50" font-size="8" text-anchor="middle" font-weight="normal" >6</text>
<text x="425.62" y="501.50" font-size="8" text-anchor="middle" font-weight="normal" >6</text>
<text x="449.48" y="501.50" font-size="8" text-anchor="middle" font-weight="normal" >6</text>
<text x="473.34" y="501.50" font-size="8" text-anchor="middle" font-weight="normal" >6</text>
<text x="497.19" y="501.50" font-size="8" text-anchor="middle" font-weight="normal" >6</text>
<text transform="translate(265.50,531.90) scale(0.9,1)" font-size="14.2" font-weight="bold">F</text>
<line x1="329.80" y1="532.30" x2="329.80" y2="674.20" stroke="#000" stroke-width="1.5" />
<line x1="326.60" y1="535.00" x2="329.80" y2="535.00" stroke="#000" stroke-width="1.1" />
<text x="323.00" y="537.90" font-size="8" text-anchor="end" font-weight="normal" >25</text>
<line x1="326.60" y1="569.20" x2="329.80" y2="569.20" stroke="#000" stroke-width="1.1" />
<text x="323.00" y="572.10" font-size="8" text-anchor="end" font-weight="normal" >0</text>
<line x1="326.60" y1="603.40" x2="329.80" y2="603.40" stroke="#000" stroke-width="1.1" />
<text x="323.00" y="606.30" font-size="8" text-anchor="end" font-weight="normal" >–25</text>
<line x1="326.60" y1="637.60" x2="329.80" y2="637.60" stroke="#000" stroke-width="1.1" />
<text x="323.00" y="640.50" font-size="8" text-anchor="end" font-weight="normal" >–50</text>
<line x1="326.60" y1="671.80" x2="329.80" y2="671.80" stroke="#000" stroke-width="1.1" />
<text x="323.00" y="674.70" font-size="8" text-anchor="end" font-weight="normal" >–75</text>
<line x1="329.80" y1="569.20" x2="510.00" y2="569.20" stroke="#000" stroke-width="1.5" />
<line x1="354.67" y1="569.20" x2="354.67" y2="572.40" stroke="#000" stroke-width="1.1" />
<line x1="379.74" y1="569.20" x2="379.74" y2="572.40" stroke="#000" stroke-width="1.1" />
<line x1="404.81" y1="569.20" x2="404.81" y2="572.40" stroke="#000" stroke-width="1.1" />
<line x1="429.88" y1="569.20" x2="429.88" y2="572.40" stroke="#000" stroke-width="1.1" />
<line x1="454.95" y1="569.20" x2="454.95" y2="572.40" stroke="#000" stroke-width="1.1" />
<line x1="480.02" y1="569.20" x2="480.02" y2="572.40" stroke="#000" stroke-width="1.1" />
<line x1="505.09" y1="569.20" x2="505.09" y2="572.40" stroke="#000" stroke-width="1.1" />
<text x="329.60" y="685.20" font-size="8" text-anchor="middle" font-weight="normal" >0</text>
<text x="354.67" y="685.20" font-size="8" text-anchor="middle" font-weight="normal" >48</text>
<text x="379.74" y="685.20" font-size="8" text-anchor="middle" font-weight="normal" >96</text>
<text x="404.81" y="685.20" font-size="8" text-anchor="middle" font-weight="normal" >144</text>
<text x="429.88" y="685.20" font-size="8" text-anchor="middle" font-weight="normal" >192</text>
<text x="454.95" y="685.20" font-size="8" text-anchor="middle" font-weight="normal" >240</text>
<text x="480.02" y="685.20" font-size="8" text-anchor="middle" font-weight="normal" >288</text>
<text x="505.09" y="685.20" font-size="8" text-anchor="middle" font-weight="normal" >336</text>
<text x="419.50" y="697.40" font-size="9" text-anchor="middle" font-weight="normal" >Week</text>
<text transform="translate(289.50,603.20) rotate(-90)" font-size="9.3" text-anchor="middle">Median change in</text>
<text transform="translate(301.20,603.90) rotate(-90)" font-size="9.25" text-anchor="middle"><tspan font-style="italic">JAK2</tspan>V617F allele burden, %</text>
<polyline points="332.30,579.00 336.50,579.00 343.30,573.70 349.00,573.70 354.20,566.50 356.70,570.40 361.20,577.70 368.30,569.40 373.00,572.30 380.40,584.20 392.60,589.60 404.80,595.70 417.40,604.50 430.00,615.10 442.70,626.50 455.40,638.20 467.40,637.30 480.40,647.00 492.80,650.40 505.10,637.30" fill="none" stroke="#3a3a42" stroke-width="1.6" stroke-linejoin="miter" stroke-miterlimit="3" />
<text x="282.70" y="705.40" font-size="8" text-anchor="start" font-weight="bold" >Patients, n</text>
<text x="329.60" y="716.80" font-size="8" text-anchor="middle" font-weight="normal" >24</text>
<text x="354.67" y="716.80" font-size="8" text-anchor="middle" font-weight="normal" >20</text>
<text x="379.74" y="716.80" font-size="8" text-anchor="middle" font-weight="normal" >16</text>
<text x="404.81" y="716.80" font-size="8" text-anchor="middle" font-weight="normal" >16</text>
<text x="429.88" y="716.80" font-size="8" text-anchor="middle" font-weight="normal" >15</text>
<text x="454.95" y="716.80" font-size="8" text-anchor="middle" font-weight="normal" >12</text>
<text x="480.02" y="716.80" font-size="8" text-anchor="middle" font-weight="normal" >13</text>
<text x="505.09" y="716.80" font-size="8" text-anchor="middle" font-weight="normal" >11</text>
</g>
</svg>
</body></html>
